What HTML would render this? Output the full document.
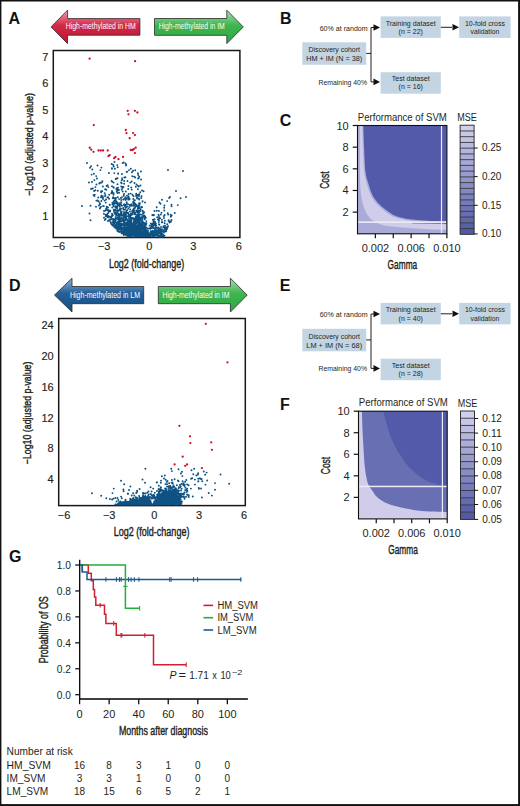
<!DOCTYPE html>
<html><head><meta charset="utf-8"><style>html,body{margin:0;padding:0;background:#fff;overflow:hidden;}svg{display:block;}</style></head>
<body><svg width="520" height="806" viewBox="0 0 520 806" font-family="Liberation Sans, sans-serif"><rect x="0" y="0" width="520" height="806" fill="#fff"/><text x="8.5" y="23.6" font-size="16" font-weight="bold" fill="#111" >A</text><text x="280.0" y="23.8" font-size="16" font-weight="bold" fill="#111" >B</text><text x="279.7" y="125.69999999999999" font-size="16" font-weight="bold" fill="#111" >C</text><text x="9.1" y="290.6" font-size="16" font-weight="bold" fill="#111" >D</text><text x="279.7" y="290.70000000000005" font-size="16" font-weight="bold" fill="#111" >E</text><text x="280.0" y="409.8" font-size="16" font-weight="bold" fill="#111" >F</text><text x="8.899999999999999" y="561.8000000000001" font-size="16" font-weight="bold" fill="#111" >G</text><defs><linearGradient id="gr1" x1="0" y1="0" x2="0" y2="1"><stop offset="0" stop-color="#f0a0b0"/><stop offset="0.45" stop-color="#d22a48"/><stop offset="1" stop-color="#c0102c"/></linearGradient></defs><polygon points="51.1,26.9 67.6,10.1 67.6,18.6 139.9,18.6 139.9,35.2 67.6,35.2 67.6,43.7" fill="url(#gr1)" stroke="#2a2a2a" stroke-width="0.8"/><text x="65.8" y="29.3" font-size="8.2" textLength="70" lengthAdjust="spacingAndGlyphs" fill="#fff" >High-methylated in HM</text><defs><linearGradient id="gg1" x1="0" y1="0" x2="0" y2="1"><stop offset="0" stop-color="#a8e0ae"/><stop offset="0.45" stop-color="#3fb54f"/><stop offset="1" stop-color="#2ea844"/></linearGradient></defs><polygon points="243.3,26.9 226.8,10.2 226.8,18.5 154.5,18.5 154.5,35.3 226.8,35.3 226.8,43.6" fill="url(#gg1)" stroke="#2a2a2a" stroke-width="0.8"/><text x="158.7" y="29.3" font-size="8.2" textLength="66" lengthAdjust="spacingAndGlyphs" fill="#fff" >High-methylated in IM</text><defs><linearGradient id="gb2" x1="0" y1="0" x2="0" y2="1"><stop offset="0" stop-color="#8fb3d6"/><stop offset="0.45" stop-color="#245f98"/><stop offset="1" stop-color="#154f86"/></linearGradient></defs><polygon points="54.5,295.1 72.0,278.2 72.0,286.5 143.7,286.5 143.7,303.7 72.0,303.7 72.0,312.0" fill="url(#gb2)" stroke="#2a2a2a" stroke-width="0.8"/><text x="70" y="297.8" font-size="8.2" textLength="70" lengthAdjust="spacingAndGlyphs" fill="#fff" >High-methylated in LM</text><defs><linearGradient id="gg2" x1="0" y1="0" x2="0" y2="1"><stop offset="0" stop-color="#a8e0ae"/><stop offset="0.45" stop-color="#3fb54f"/><stop offset="1" stop-color="#2ea844"/></linearGradient></defs><polygon points="247.2,295.1 230.4,278.2 230.4,286.5 158.3,286.5 158.3,303.7 230.4,303.7 230.4,312.0" fill="url(#gg2)" stroke="#2a2a2a" stroke-width="0.8"/><text x="162.5" y="297.8" font-size="8.2" textLength="67" lengthAdjust="spacingAndGlyphs" fill="#fff" >High-methylated in IM</text><rect x="53.3" y="50.5" width="186.60" height="187.00" fill="none" stroke="#1a1718" stroke-width="1.5"/><text x="48.3" y="219.53" font-size="11" text-anchor="end" fill="#231f20"  stroke="#231f20" stroke-width="0.15">1</text><text x="48.3" y="193.06" font-size="11" text-anchor="end" fill="#231f20"  stroke="#231f20" stroke-width="0.15">2</text><text x="48.3" y="166.59" font-size="11" text-anchor="end" fill="#231f20"  stroke="#231f20" stroke-width="0.15">3</text><text x="48.3" y="140.12" font-size="11" text-anchor="end" fill="#231f20"  stroke="#231f20" stroke-width="0.15">4</text><text x="48.3" y="113.65" font-size="11" text-anchor="end" fill="#231f20"  stroke="#231f20" stroke-width="0.15">5</text><text x="48.3" y="87.18" font-size="11" text-anchor="end" fill="#231f20"  stroke="#231f20" stroke-width="0.15">6</text><text x="48.3" y="60.710000000000015" font-size="11" text-anchor="end" fill="#231f20"  stroke="#231f20" stroke-width="0.15">7</text><text x="58.9" y="250.2" font-size="11" text-anchor="middle" fill="#231f20"  stroke="#231f20" stroke-width="0.15">−6</text><text x="104.2" y="250.2" font-size="11" text-anchor="middle" fill="#231f20"  stroke="#231f20" stroke-width="0.15">−3</text><text x="149.3" y="250.2" font-size="11" text-anchor="middle" fill="#231f20"  stroke="#231f20" stroke-width="0.15">0</text><text x="193.4" y="250.2" font-size="11" text-anchor="middle" fill="#231f20"  stroke="#231f20" stroke-width="0.15">3</text><text x="238.8" y="250.2" font-size="11" text-anchor="middle" fill="#231f20"  stroke="#231f20" stroke-width="0.15">6</text><text x="108.9" y="267.6" font-size="12" textLength="75.3" lengthAdjust="spacingAndGlyphs" fill="#231f20"  stroke="#231f20" stroke-width="0.4">Log2 (fold-change)</text><g transform="translate(33.2,144.5) rotate(-90)"><text x="0" y="0" font-size="11.5" text-anchor="middle" textLength="102.7" lengthAdjust="spacingAndGlyphs" fill="#231f20"  stroke="#231f20" stroke-width="0.4">−Log10 (adjusted p-value)</text></g><rect x="58.7" y="318.5" width="186.60" height="187.10" fill="none" stroke="#1a1718" stroke-width="1.5"/><text x="53.7" y="483.2" font-size="11" text-anchor="end" fill="#231f20"  stroke="#231f20" stroke-width="0.15">4</text><text x="53.7" y="452.4" font-size="11" text-anchor="end" fill="#231f20"  stroke="#231f20" stroke-width="0.15">8</text><text x="53.7" y="421.6" font-size="11" text-anchor="end" fill="#231f20"  stroke="#231f20" stroke-width="0.15">12</text><text x="53.7" y="390.8" font-size="11" text-anchor="end" fill="#231f20"  stroke="#231f20" stroke-width="0.15">16</text><text x="53.7" y="360.0" font-size="11" text-anchor="end" fill="#231f20"  stroke="#231f20" stroke-width="0.15">20</text><text x="53.7" y="329.2" font-size="11" text-anchor="end" fill="#231f20"  stroke="#231f20" stroke-width="0.15">24</text><text x="64" y="518.5" font-size="11" text-anchor="middle" fill="#231f20"  stroke="#231f20" stroke-width="0.15">−6</text><text x="109.2" y="518.5" font-size="11" text-anchor="middle" fill="#231f20"  stroke="#231f20" stroke-width="0.15">−3</text><text x="154.2" y="518.5" font-size="11" text-anchor="middle" fill="#231f20"  stroke="#231f20" stroke-width="0.15">0</text><text x="199" y="518.5" font-size="11" text-anchor="middle" fill="#231f20"  stroke="#231f20" stroke-width="0.15">3</text><text x="244" y="518.5" font-size="11" text-anchor="middle" fill="#231f20"  stroke="#231f20" stroke-width="0.15">6</text><text x="113.8" y="535.6" font-size="12" textLength="75.6" lengthAdjust="spacingAndGlyphs" fill="#231f20"  stroke="#231f20" stroke-width="0.4">Log2 (fold-change)</text><g transform="translate(31.2,412.9) rotate(-90)"><text x="0" y="0" font-size="11.5" text-anchor="middle" textLength="102.7" lengthAdjust="spacingAndGlyphs" fill="#231f20"  stroke="#231f20" stroke-width="0.4">−Log10 (adjusted p-value)</text></g><rect x="302.3" y="42.3" width="63.89999999999998" height="22.5" fill="#c3d5e3"/><rect x="380.6" y="16.4" width="60.19999999999999" height="21.5" fill="#c3d5e3"/><rect x="459.2" y="16.4" width="51.400000000000034" height="21.5" fill="#c3d5e3"/><rect x="380.6" y="72.2" width="60.19999999999999" height="21.5" fill="#c3d5e3"/><path d="M366.2 53.4 H371 M371 27.5 V81.9 M371 27.5 H374 M371 81.9 H374 M440.8 27.3 H452" stroke="#231f20" stroke-width="1" fill="none"/><polygon points="380,27.5 373.5,24.2 373.5,30.8" fill="#111"/><polygon points="380,81.9 373.5,78.60000000000001 373.5,85.2" fill="#111"/><polygon points="459,27.3 452.5,24.0 452.5,30.6" fill="#111"/><text x="334.2" y="52.2" font-size="8" text-anchor="middle" textLength="51.5" lengthAdjust="spacingAndGlyphs" fill="#231f20" >Discovery cohort</text><text x="334.2" y="61.3" font-size="8" text-anchor="middle" textLength="55.8" lengthAdjust="spacingAndGlyphs" fill="#231f20" >HM + IM (N = 38)</text><text x="410.7" y="25.8" font-size="8" text-anchor="middle" textLength="50" lengthAdjust="spacingAndGlyphs" fill="#231f20" >Training dataset</text><text x="410.7" y="34.2" font-size="8" text-anchor="middle" textLength="24.3" lengthAdjust="spacingAndGlyphs" fill="#231f20" >(n = 22)</text><text x="484.9" y="25.8" font-size="8" text-anchor="middle" textLength="40" lengthAdjust="spacingAndGlyphs" fill="#231f20" >10-fold cross</text><text x="484.9" y="34.2" font-size="8" text-anchor="middle" textLength="28.7" lengthAdjust="spacingAndGlyphs" fill="#231f20" >validation</text><text x="410.7" y="81.0" font-size="8" text-anchor="middle" textLength="38" lengthAdjust="spacingAndGlyphs" fill="#231f20" >Test dataset</text><text x="410.7" y="89.4" font-size="8" text-anchor="middle" textLength="24.3" lengthAdjust="spacingAndGlyphs" fill="#231f20" >(n = 16)</text><text x="367.7" y="30.8" font-size="8" text-anchor="end" textLength="48" lengthAdjust="spacingAndGlyphs" fill="#231f20" >60% at random</text><text x="367" y="84.7" font-size="8" text-anchor="end" textLength="48.5" lengthAdjust="spacingAndGlyphs" fill="#231f20" >Remaining 40%</text><rect x="302.3" y="328.8" width="63.89999999999998" height="22.5" fill="#c3d5e3"/><rect x="380.6" y="302.9" width="60.19999999999999" height="21.5" fill="#c3d5e3"/><rect x="459.2" y="302.9" width="51.400000000000034" height="21.5" fill="#c3d5e3"/><rect x="380.6" y="358.7" width="60.19999999999999" height="21.5" fill="#c3d5e3"/><path d="M366.2 339.9 H371 M371 314.0 V368.4 M371 314.0 H374 M371 368.4 H374 M440.8 313.8 H452" stroke="#231f20" stroke-width="1" fill="none"/><polygon points="380,314.0 373.5,310.7 373.5,317.3" fill="#111"/><polygon points="380,368.4 373.5,365.1 373.5,371.7" fill="#111"/><polygon points="459,313.8 452.5,310.5 452.5,317.1" fill="#111"/><text x="334.2" y="338.7" font-size="8" text-anchor="middle" textLength="51.5" lengthAdjust="spacingAndGlyphs" fill="#231f20" >Discovery cohort</text><text x="334.2" y="347.8" font-size="8" text-anchor="middle" textLength="55.8" lengthAdjust="spacingAndGlyphs" fill="#231f20" >LM + IM (N = 68)</text><text x="410.7" y="312.3" font-size="8" text-anchor="middle" textLength="50" lengthAdjust="spacingAndGlyphs" fill="#231f20" >Training dataset</text><text x="410.7" y="320.7" font-size="8" text-anchor="middle" textLength="24.3" lengthAdjust="spacingAndGlyphs" fill="#231f20" >(n = 40)</text><text x="484.9" y="312.3" font-size="8" text-anchor="middle" textLength="40" lengthAdjust="spacingAndGlyphs" fill="#231f20" >10-fold cross</text><text x="484.9" y="320.7" font-size="8" text-anchor="middle" textLength="28.7" lengthAdjust="spacingAndGlyphs" fill="#231f20" >validation</text><text x="410.7" y="367.5" font-size="8" text-anchor="middle" textLength="38" lengthAdjust="spacingAndGlyphs" fill="#231f20" >Test dataset</text><text x="410.7" y="375.9" font-size="8" text-anchor="middle" textLength="24.3" lengthAdjust="spacingAndGlyphs" fill="#231f20" >(n = 28)</text><text x="367.7" y="317.3" font-size="8" text-anchor="end" textLength="48" lengthAdjust="spacingAndGlyphs" fill="#231f20" >60% at random</text><text x="367" y="371.2" font-size="8" text-anchor="end" textLength="48.5" lengthAdjust="spacingAndGlyphs" fill="#231f20" >Remaining 40%</text><rect x="357.5" y="125.5" width="89.39999999999998" height="108.30000000000001" fill="#525aa9"/><path d="M357.5,125.5 L363.30,125.50 L363.37,127.41 L363.45,129.96 L363.55,133.00 L363.67,136.38 L363.79,139.92 L363.93,143.48 L364.06,146.89 L364.20,150.00 L364.33,152.93 L364.45,155.89 L364.57,158.83 L364.70,161.72 L364.85,164.52 L365.02,167.19 L365.24,169.70 L365.50,172.00 L365.82,174.08 L366.18,175.97 L366.59,177.69 L367.02,179.29 L367.47,180.78 L367.92,182.21 L368.37,183.61 L368.80,185.00 L369.21,186.36 L369.61,187.65 L370.00,188.87 L370.39,190.04 L370.80,191.17 L371.24,192.26 L371.70,193.34 L372.20,194.40 L372.73,195.44 L373.27,196.43 L373.83,197.40 L374.41,198.33 L375.03,199.25 L375.70,200.16 L376.42,201.08 L377.20,202.00 L378.04,202.93 L378.94,203.86 L379.88,204.79 L380.87,205.72 L381.90,206.63 L382.97,207.54 L384.07,208.43 L385.20,209.30 L386.35,210.17 L387.51,211.05 L388.71,211.93 L389.94,212.79 L391.23,213.62 L392.58,214.40 L394.00,215.14 L395.50,215.80 L397.07,216.39 L398.70,216.93 L400.39,217.42 L402.14,217.86 L403.98,218.26 L405.89,218.63 L407.90,218.97 L410.00,219.30 L412.26,219.60 L414.69,219.86 L417.23,220.08 L419.85,220.28 L422.49,220.46 L425.09,220.61 L427.61,220.76 L430.00,220.90 L432.38,221.03 L434.84,221.13 L437.31,221.22 L439.70,221.30 L441.94,221.36 L443.94,221.42 L445.62,221.46 L446.90,221.50 L446.9,233.8 L357.5,233.8 Z" fill="#abacd9"/><path d="M357.5,125.5 L362.30,125.50 L362.35,127.41 L362.41,129.96 L362.49,133.00 L362.58,136.38 L362.67,139.92 L362.77,143.48 L362.88,146.89 L363.00,150.00 L363.11,152.93 L363.22,155.89 L363.33,158.83 L363.46,161.72 L363.60,164.52 L363.76,167.19 L363.96,169.70 L364.20,172.00 L364.49,174.08 L364.82,175.97 L365.18,177.69 L365.57,179.29 L365.98,180.78 L366.39,182.21 L366.80,183.61 L367.20,185.00 L367.58,186.36 L367.95,187.65 L368.32,188.87 L368.70,190.04 L369.09,191.17 L369.50,192.26 L369.93,193.34 L370.40,194.40 L370.89,195.44 L371.38,196.43 L371.89,197.40 L372.42,198.33 L372.99,199.25 L373.61,200.16 L374.27,201.08 L375.00,202.00 L375.79,202.93 L376.63,203.85 L377.52,204.77 L378.46,205.68 L379.44,206.59 L380.45,207.50 L381.51,208.40 L382.60,209.30 L383.71,210.22 L384.83,211.16 L385.98,212.12 L387.17,213.06 L388.42,213.98 L389.75,214.85 L391.17,215.67 L392.70,216.40 L394.35,217.05 L396.12,217.64 L397.98,218.17 L399.92,218.66 L401.91,219.10 L403.93,219.52 L405.97,219.92 L408.00,220.30 L410.01,220.66 L412.02,220.98 L414.04,221.27 L416.09,221.54 L418.19,221.79 L420.37,222.03 L422.63,222.26 L425.00,222.50 L427.65,222.75 L430.64,223.00 L433.82,223.25 L437.01,223.49 L440.08,223.71 L442.85,223.91 L445.18,224.07 L446.90,224.20 L446.9,233.8 L357.5,233.8 Z" fill="#cfcde9"/><path d="M357.5,125.5 L359.70,125.50 L359.71,129.25 L359.71,134.42 L359.72,140.59 L359.73,147.35 L359.75,154.28 L359.78,160.98 L359.83,167.02 L359.90,172.00 L359.98,176.00 L360.05,179.47 L360.14,182.49 L360.24,185.17 L360.36,187.61 L360.53,189.89 L360.74,192.12 L361.00,194.40 L361.33,196.67 L361.71,198.83 L362.14,200.86 L362.60,202.78 L363.09,204.58 L363.59,206.27 L364.10,207.84 L364.60,209.30 L365.10,210.62 L365.62,211.78 L366.16,212.81 L366.70,213.74 L367.25,214.58 L367.80,215.35 L368.35,216.09 L368.90,216.80 L369.43,217.46 L369.94,218.04 L370.44,218.54 L370.95,219.00 L371.48,219.43 L372.04,219.84 L372.64,220.26 L373.30,220.70 L374.01,221.17 L374.76,221.64 L375.55,222.10 L376.37,222.56 L377.23,223.01 L378.12,223.43 L379.04,223.83 L380.00,224.20 L380.91,224.53 L381.74,224.83 L382.55,225.10 L383.42,225.35 L384.43,225.59 L385.62,225.82 L387.09,226.06 L388.90,226.30 L391.14,226.55 L393.80,226.81 L396.75,227.06 L399.88,227.31 L403.09,227.55 L406.25,227.79 L409.26,228.00 L412.00,228.20 L414.50,228.38 L416.88,228.54 L419.17,228.69 L421.39,228.83 L423.55,228.96 L425.70,229.08 L427.84,229.19 L430.00,229.30 L432.28,229.40 L434.70,229.50 L437.16,229.59 L439.57,229.67 L441.85,229.74 L443.89,229.80 L445.60,229.86 L446.90,229.90 L446.9,233.8 L357.5,233.8 Z" fill="#aaabd7"/><path d="M412,222.9 L446.9,222.9 L446.9,223.9 L412,223.4 Z" fill="#525aa9" opacity="0.75"/><rect x="357.5" y="221.3" width="89.39999999999998" height="1.6" fill="#ebebf7"/><rect x="440.9" y="125.5" width="1.2" height="108.30000000000001" fill="#ebebf7"/><line x1="352.7" y1="212.14" x2="357.5" y2="212.14" stroke="#111" stroke-width="1.2"/><text x="348.7" y="216.14000000000001" font-size="11" text-anchor="end" fill="#231f20" >2</text><line x1="352.7" y1="190.48" x2="357.5" y2="190.48" stroke="#111" stroke-width="1.2"/><text x="348.7" y="194.48000000000002" font-size="11" text-anchor="end" fill="#231f20" >4</text><line x1="352.7" y1="168.82" x2="357.5" y2="168.82" stroke="#111" stroke-width="1.2"/><text x="348.7" y="172.82" font-size="11" text-anchor="end" fill="#231f20" >6</text><line x1="352.7" y1="147.16" x2="357.5" y2="147.16" stroke="#111" stroke-width="1.2"/><text x="348.7" y="151.16" font-size="11" text-anchor="end" fill="#231f20" >8</text><line x1="352.7" y1="125.50" x2="357.5" y2="125.50" stroke="#111" stroke-width="1.2"/><text x="348.7" y="129.5" font-size="11" text-anchor="end" fill="#231f20" >10</text><line x1="375.38" y1="233.8" x2="375.38" y2="238.20000000000002" stroke="#111" stroke-width="1.2"/><text x="375.38" y="252.0" font-size="11" text-anchor="middle" textLength="27.5" lengthAdjust="spacingAndGlyphs" fill="#231f20" >0.002</text><line x1="393.26" y1="233.8" x2="393.26" y2="238.20000000000002" stroke="#111" stroke-width="1.2"/><line x1="411.14" y1="233.8" x2="411.14" y2="238.20000000000002" stroke="#111" stroke-width="1.2"/><text x="411.14" y="252.0" font-size="11" text-anchor="middle" textLength="27.5" lengthAdjust="spacingAndGlyphs" fill="#231f20" >0.006</text><line x1="429.02" y1="233.8" x2="429.02" y2="238.20000000000002" stroke="#111" stroke-width="1.2"/><line x1="446.90" y1="233.8" x2="446.90" y2="238.20000000000002" stroke="#111" stroke-width="1.2"/><text x="446.9" y="252.0" font-size="11" text-anchor="middle" textLength="27.5" lengthAdjust="spacingAndGlyphs" fill="#231f20" >0.010</text><rect x="357.5" y="125.5" width="89.39999999999998" height="108.30000000000001" fill="none" stroke="#111" stroke-width="1.1"/><text x="357.8" y="120.5" font-size="10" textLength="89" lengthAdjust="spacingAndGlyphs" fill="#231f20" >Performance of SVM</text><text x="402.4" y="269.0" font-size="13" text-anchor="middle" textLength="29.6" lengthAdjust="spacingAndGlyphs" fill="#231f20"  stroke="#231f20" stroke-width="0.4">Gamma</text><g transform="translate(324.7,180.15) rotate(-90)"><text x="0" y="4.5" font-size="13" text-anchor="middle" textLength="17.2" lengthAdjust="spacingAndGlyphs" fill="#231f20"  stroke="#231f20" stroke-width="0.4">Cost</text></g><rect x="460.1" y="228.56" width="14.0" height="5.74" fill="rgb(82,90,168)"/><rect x="460.1" y="222.82" width="14.0" height="5.74" fill="rgb(89,96,171)"/><rect x="460.1" y="217.07" width="14.0" height="5.74" fill="rgb(96,103,175)"/><rect x="460.1" y="211.33" width="14.0" height="5.74" fill="rgb(103,109,179)"/><rect x="460.1" y="205.59" width="14.0" height="5.74" fill="rgb(110,116,183)"/><rect x="460.1" y="199.85" width="14.0" height="5.74" fill="rgb(117,122,187)"/><rect x="460.1" y="194.11" width="14.0" height="5.74" fill="rgb(124,129,191)"/><rect x="460.1" y="188.36" width="14.0" height="5.74" fill="rgb(131,135,195)"/><rect x="460.1" y="182.62" width="14.0" height="5.74" fill="rgb(138,142,199)"/><rect x="460.1" y="176.88" width="14.0" height="5.74" fill="rgb(145,148,203)"/><rect x="460.1" y="171.14" width="14.0" height="5.74" fill="rgb(152,155,206)"/><rect x="460.1" y="165.39" width="14.0" height="5.74" fill="rgb(159,161,210)"/><rect x="460.1" y="159.65" width="14.0" height="5.74" fill="rgb(166,168,214)"/><rect x="460.1" y="153.91" width="14.0" height="5.74" fill="rgb(173,174,218)"/><rect x="460.1" y="148.17" width="14.0" height="5.74" fill="rgb(180,181,222)"/><rect x="460.1" y="142.43" width="14.0" height="5.74" fill="rgb(187,187,226)"/><rect x="460.1" y="136.68" width="14.0" height="5.74" fill="rgb(194,194,230)"/><rect x="460.1" y="130.94" width="14.0" height="5.74" fill="rgb(201,200,234)"/><rect x="460.1" y="125.20" width="14.0" height="5.74" fill="rgb(208,207,238)"/><line x1="460.1" y1="130.94" x2="474.1" y2="130.94" stroke="#333" stroke-width="0.9"/><line x1="460.1" y1="136.68" x2="474.1" y2="136.68" stroke="#333" stroke-width="0.9"/><line x1="460.1" y1="142.43" x2="474.1" y2="142.43" stroke="#333" stroke-width="0.9"/><line x1="460.1" y1="148.17" x2="474.1" y2="148.17" stroke="#333" stroke-width="0.9"/><line x1="460.1" y1="153.91" x2="474.1" y2="153.91" stroke="#333" stroke-width="0.9"/><line x1="460.1" y1="159.65" x2="474.1" y2="159.65" stroke="#333" stroke-width="0.9"/><line x1="460.1" y1="165.39" x2="474.1" y2="165.39" stroke="#333" stroke-width="0.9"/><line x1="460.1" y1="171.14" x2="474.1" y2="171.14" stroke="#333" stroke-width="0.9"/><line x1="460.1" y1="176.88" x2="474.1" y2="176.88" stroke="#333" stroke-width="0.9"/><line x1="460.1" y1="182.62" x2="474.1" y2="182.62" stroke="#333" stroke-width="0.9"/><line x1="460.1" y1="188.36" x2="474.1" y2="188.36" stroke="#333" stroke-width="0.9"/><line x1="460.1" y1="194.11" x2="474.1" y2="194.11" stroke="#333" stroke-width="0.9"/><line x1="460.1" y1="199.85" x2="474.1" y2="199.85" stroke="#333" stroke-width="0.9"/><line x1="460.1" y1="205.59" x2="474.1" y2="205.59" stroke="#333" stroke-width="0.9"/><line x1="460.1" y1="211.33" x2="474.1" y2="211.33" stroke="#333" stroke-width="0.9"/><line x1="460.1" y1="217.07" x2="474.1" y2="217.07" stroke="#333" stroke-width="0.9"/><line x1="460.1" y1="222.82" x2="474.1" y2="222.82" stroke="#333" stroke-width="0.9"/><line x1="460.1" y1="228.56" x2="474.1" y2="228.56" stroke="#333" stroke-width="0.9"/><rect x="460.1" y="125.2" width="14.0" height="109.10000000000001" fill="none" stroke="#222" stroke-width="0.9"/><text x="467.1" y="121.2" font-size="10" text-anchor="middle" textLength="19.5" lengthAdjust="spacingAndGlyphs" fill="#231f20" >MSE</text><line x1="474.1" y1="148.00" x2="477.70000000000005" y2="148.00" stroke="#111" stroke-width="1"/><text x="481.90000000000003" y="151.4" font-size="10.6" textLength="19.5" lengthAdjust="spacingAndGlyphs" fill="#231f20" >0.25</text><line x1="474.1" y1="176.60" x2="477.70000000000005" y2="176.60" stroke="#111" stroke-width="1"/><text x="481.90000000000003" y="180.0" font-size="10.6" textLength="19.5" lengthAdjust="spacingAndGlyphs" fill="#231f20" >0.20</text><line x1="474.1" y1="205.30" x2="477.70000000000005" y2="205.30" stroke="#111" stroke-width="1"/><text x="481.90000000000003" y="208.70000000000002" font-size="10.6" textLength="19.5" lengthAdjust="spacingAndGlyphs" fill="#231f20" >0.15</text><line x1="474.1" y1="233.90" x2="477.70000000000005" y2="233.90" stroke="#111" stroke-width="1"/><text x="481.90000000000003" y="237.3" font-size="10.6" textLength="19.5" lengthAdjust="spacingAndGlyphs" fill="#231f20" >0.10</text><rect x="358.5" y="411.2" width="88.69999999999999" height="107.69999999999999" fill="#525aa9"/><path d="M383.10,411.20 L383.40,412.27 L383.79,413.69 L384.26,415.38 L384.78,417.26 L385.34,419.24 L385.91,421.25 L386.47,423.20 L387.00,425.00 L387.52,426.73 L388.04,428.49 L388.57,430.26 L389.10,432.02 L389.64,433.74 L390.19,435.41 L390.74,437.01 L391.30,438.50 L391.86,439.88 L392.42,441.15 L392.98,442.35 L393.55,443.49 L394.13,444.60 L394.73,445.70 L395.35,446.83 L396.00,448.00 L396.68,449.21 L397.39,450.44 L398.12,451.68 L398.86,452.92 L399.62,454.16 L400.38,455.37 L401.14,456.55 L401.90,457.70 L402.64,458.81 L403.38,459.90 L404.12,460.97 L404.86,462.02 L405.61,463.04 L406.38,464.05 L407.17,465.03 L408.00,466.00 L408.88,466.95 L409.80,467.90 L410.76,468.83 L411.73,469.74 L412.70,470.62 L413.65,471.46 L414.55,472.25 L415.40,473.00 L416.18,473.69 L416.92,474.33 L417.62,474.92 L418.29,475.48 L418.96,476.01 L419.62,476.52 L420.30,477.01 L421.00,477.50 L421.71,477.97 L422.43,478.42 L423.14,478.85 L423.86,479.26 L424.59,479.65 L425.33,480.04 L426.10,480.42 L426.90,480.80 L427.73,481.18 L428.61,481.55 L429.51,481.92 L430.42,482.28 L431.34,482.63 L432.25,482.97 L433.14,483.29 L434.00,483.60 L434.83,483.89 L435.64,484.18 L436.43,484.44 L437.22,484.70 L438.00,484.94 L438.79,485.18 L439.59,485.39 L440.40,485.60 L441.28,485.80 L442.23,485.98 L443.22,486.16 L444.20,486.33 L445.13,486.47 L445.97,486.60 L446.67,486.71 L447.20,486.80 L447.20,518.90 L358.50,518.90 L358.50,411.20 Z" fill="#6870b3"/><path d="M358.50,411.20 L361.90,411.20 L361.94,412.66 L362.00,414.60 L362.06,416.91 L362.14,419.47 L362.22,422.18 L362.31,424.92 L362.40,427.56 L362.50,430.00 L362.61,432.30 L362.72,434.58 L362.84,436.85 L362.97,439.11 L363.10,441.36 L363.23,443.59 L363.37,445.80 L363.50,448.00 L363.63,450.21 L363.75,452.44 L363.88,454.67 L364.01,456.88 L364.14,459.04 L364.28,461.12 L364.43,463.12 L364.60,465.00 L364.78,466.77 L364.97,468.45 L365.17,470.04 L365.38,471.56 L365.60,473.01 L365.83,474.40 L366.06,475.73 L366.30,477.00 L366.54,478.21 L366.78,479.34 L367.03,480.41 L367.28,481.41 L367.55,482.37 L367.84,483.28 L368.15,484.15 L368.50,485.00 L368.88,485.80 L369.29,486.53 L369.73,487.21 L370.19,487.85 L370.67,488.47 L371.15,489.10 L371.63,489.73 L372.10,490.40 L372.57,491.10 L373.03,491.82 L373.50,492.56 L373.98,493.29 L374.46,494.01 L374.95,494.71 L375.47,495.38 L376.00,496.00 L376.54,496.58 L377.08,497.12 L377.63,497.63 L378.19,498.11 L378.78,498.58 L379.41,499.05 L380.08,499.52 L380.80,500.00 L381.57,500.49 L382.37,500.99 L383.20,501.48 L384.08,501.97 L384.99,502.45 L385.95,502.92 L386.95,503.37 L388.00,503.80 L389.05,504.20 L390.09,504.56 L391.14,504.91 L392.24,505.24 L393.45,505.58 L394.78,505.93 L396.29,506.30 L398.00,506.70 L399.98,507.16 L402.21,507.67 L404.63,508.22 L407.17,508.77 L409.77,509.31 L412.37,509.81 L414.90,510.24 L417.30,510.60 L419.63,510.87 L421.97,511.07 L424.30,511.21 L426.59,511.32 L428.84,511.40 L431.00,511.46 L433.06,511.52 L435.00,511.60 L436.87,511.68 L438.72,511.75 L440.51,511.81 L442.21,511.86 L443.76,511.91 L445.14,511.94 L446.30,511.97 L447.20,512.00 L447.20,518.90 L358.50,518.90 Z" fill="#cfcde9"/><rect x="358.5" y="485.7" width="88.69999999999999" height="1.5" fill="#ebebf7"/><rect x="441.8" y="411.2" width="1.2" height="107.69999999999999" fill="#ebebf7"/><line x1="353.7" y1="497.36" x2="358.5" y2="497.36" stroke="#111" stroke-width="1.2"/><text x="349.7" y="501.35999999999996" font-size="11" text-anchor="end" fill="#231f20" >2</text><line x1="353.7" y1="475.82" x2="358.5" y2="475.82" stroke="#111" stroke-width="1.2"/><text x="349.7" y="479.82" font-size="11" text-anchor="end" fill="#231f20" >4</text><line x1="353.7" y1="454.28" x2="358.5" y2="454.28" stroke="#111" stroke-width="1.2"/><text x="349.7" y="458.28" font-size="11" text-anchor="end" fill="#231f20" >6</text><line x1="353.7" y1="432.74" x2="358.5" y2="432.74" stroke="#111" stroke-width="1.2"/><text x="349.7" y="436.74" font-size="11" text-anchor="end" fill="#231f20" >8</text><line x1="353.7" y1="411.20" x2="358.5" y2="411.20" stroke="#111" stroke-width="1.2"/><text x="349.7" y="415.2" font-size="11" text-anchor="end" fill="#231f20" >10</text><line x1="376.24" y1="518.9" x2="376.24" y2="523.3" stroke="#111" stroke-width="1.2"/><text x="376.24" y="537.1" font-size="11" text-anchor="middle" textLength="27.5" lengthAdjust="spacingAndGlyphs" fill="#231f20" >0.002</text><line x1="393.98" y1="518.9" x2="393.98" y2="523.3" stroke="#111" stroke-width="1.2"/><line x1="411.72" y1="518.9" x2="411.72" y2="523.3" stroke="#111" stroke-width="1.2"/><text x="411.71999999999997" y="537.1" font-size="11" text-anchor="middle" textLength="27.5" lengthAdjust="spacingAndGlyphs" fill="#231f20" >0.006</text><line x1="429.46" y1="518.9" x2="429.46" y2="523.3" stroke="#111" stroke-width="1.2"/><line x1="447.20" y1="518.9" x2="447.20" y2="523.3" stroke="#111" stroke-width="1.2"/><text x="447.2" y="537.1" font-size="11" text-anchor="middle" textLength="27.5" lengthAdjust="spacingAndGlyphs" fill="#231f20" >0.010</text><rect x="358.5" y="411.2" width="88.69999999999999" height="107.69999999999999" fill="none" stroke="#111" stroke-width="1.1"/><text x="358.8" y="406.2" font-size="10" textLength="89" lengthAdjust="spacingAndGlyphs" fill="#231f20" >Performance of SVM</text><text x="403.05" y="554.1" font-size="13" text-anchor="middle" textLength="29.6" lengthAdjust="spacingAndGlyphs" fill="#231f20"  stroke="#231f20" stroke-width="0.4">Gamma</text><g transform="translate(325.7,465.54999999999995) rotate(-90)"><text x="0" y="4.5" font-size="13" text-anchor="middle" textLength="17.2" lengthAdjust="spacingAndGlyphs" fill="#231f20"  stroke="#231f20" stroke-width="0.4">Cost</text></g><rect x="460.5" y="512.17" width="14.0" height="7.23" fill="rgb(82,90,168)"/><rect x="460.5" y="504.95" width="14.0" height="7.23" fill="rgb(91,98,173)"/><rect x="460.5" y="497.72" width="14.0" height="7.23" fill="rgb(100,106,178)"/><rect x="460.5" y="490.49" width="14.0" height="7.23" fill="rgb(109,115,183)"/><rect x="460.5" y="483.27" width="14.0" height="7.23" fill="rgb(118,123,188)"/><rect x="460.5" y="476.04" width="14.0" height="7.23" fill="rgb(127,131,193)"/><rect x="460.5" y="468.81" width="14.0" height="7.23" fill="rgb(136,140,198)"/><rect x="460.5" y="461.59" width="14.0" height="7.23" fill="rgb(145,148,203)"/><rect x="460.5" y="454.36" width="14.0" height="7.23" fill="rgb(154,156,208)"/><rect x="460.5" y="447.13" width="14.0" height="7.23" fill="rgb(163,165,213)"/><rect x="460.5" y="439.91" width="14.0" height="7.23" fill="rgb(172,173,218)"/><rect x="460.5" y="432.68" width="14.0" height="7.23" fill="rgb(181,181,223)"/><rect x="460.5" y="425.45" width="14.0" height="7.23" fill="rgb(190,190,228)"/><rect x="460.5" y="418.23" width="14.0" height="7.23" fill="rgb(199,198,233)"/><rect x="460.5" y="411.00" width="14.0" height="7.23" fill="rgb(208,207,238)"/><line x1="460.5" y1="418.23" x2="474.5" y2="418.23" stroke="#333" stroke-width="0.9"/><line x1="460.5" y1="425.45" x2="474.5" y2="425.45" stroke="#333" stroke-width="0.9"/><line x1="460.5" y1="432.68" x2="474.5" y2="432.68" stroke="#333" stroke-width="0.9"/><line x1="460.5" y1="439.91" x2="474.5" y2="439.91" stroke="#333" stroke-width="0.9"/><line x1="460.5" y1="447.13" x2="474.5" y2="447.13" stroke="#333" stroke-width="0.9"/><line x1="460.5" y1="454.36" x2="474.5" y2="454.36" stroke="#333" stroke-width="0.9"/><line x1="460.5" y1="461.59" x2="474.5" y2="461.59" stroke="#333" stroke-width="0.9"/><line x1="460.5" y1="468.81" x2="474.5" y2="468.81" stroke="#333" stroke-width="0.9"/><line x1="460.5" y1="476.04" x2="474.5" y2="476.04" stroke="#333" stroke-width="0.9"/><line x1="460.5" y1="483.27" x2="474.5" y2="483.27" stroke="#333" stroke-width="0.9"/><line x1="460.5" y1="490.49" x2="474.5" y2="490.49" stroke="#333" stroke-width="0.9"/><line x1="460.5" y1="497.72" x2="474.5" y2="497.72" stroke="#333" stroke-width="0.9"/><line x1="460.5" y1="504.95" x2="474.5" y2="504.95" stroke="#333" stroke-width="0.9"/><line x1="460.5" y1="512.17" x2="474.5" y2="512.17" stroke="#333" stroke-width="0.9"/><rect x="460.5" y="411.0" width="14.0" height="108.39999999999998" fill="none" stroke="#222" stroke-width="0.9"/><text x="467.5" y="407.0" font-size="10" text-anchor="middle" textLength="19.5" lengthAdjust="spacingAndGlyphs" fill="#231f20" >MSE</text><line x1="474.5" y1="418.50" x2="478.1" y2="418.50" stroke="#111" stroke-width="1"/><text x="482.3" y="421.9" font-size="10.6" textLength="19.5" lengthAdjust="spacingAndGlyphs" fill="#231f20" >0.12</text><line x1="474.5" y1="433.10" x2="478.1" y2="433.10" stroke="#111" stroke-width="1"/><text x="482.3" y="436.5" font-size="10.6" textLength="19.5" lengthAdjust="spacingAndGlyphs" fill="#231f20" >0.11</text><line x1="474.5" y1="447.30" x2="478.1" y2="447.30" stroke="#111" stroke-width="1"/><text x="482.3" y="450.7" font-size="10.6" textLength="19.5" lengthAdjust="spacingAndGlyphs" fill="#231f20" >0.10</text><line x1="474.5" y1="461.80" x2="478.1" y2="461.80" stroke="#111" stroke-width="1"/><text x="482.3" y="465.2" font-size="10.6" textLength="19.5" lengthAdjust="spacingAndGlyphs" fill="#231f20" >0.09</text><line x1="474.5" y1="475.80" x2="478.1" y2="475.80" stroke="#111" stroke-width="1"/><text x="482.3" y="479.2" font-size="10.6" textLength="19.5" lengthAdjust="spacingAndGlyphs" fill="#231f20" >0.08</text><line x1="474.5" y1="490.30" x2="478.1" y2="490.30" stroke="#111" stroke-width="1"/><text x="482.3" y="493.7" font-size="10.6" textLength="19.5" lengthAdjust="spacingAndGlyphs" fill="#231f20" >0.07</text><line x1="474.5" y1="504.50" x2="478.1" y2="504.50" stroke="#111" stroke-width="1"/><text x="482.3" y="507.9" font-size="10.6" textLength="19.5" lengthAdjust="spacingAndGlyphs" fill="#231f20" >0.06</text><line x1="474.5" y1="519.40" x2="478.1" y2="519.40" stroke="#111" stroke-width="1"/><text x="482.3" y="522.8" font-size="10.6" textLength="19.5" lengthAdjust="spacingAndGlyphs" fill="#231f20" >0.05</text><line x1="79.7" y1="559.8" x2="79.7" y2="699.6" stroke="#000" stroke-width="1.3"/><line x1="79.1" y1="699" x2="247.9" y2="699" stroke="#000" stroke-width="1.3"/><line x1="75.3" y1="694.70" x2="79.8" y2="694.70" stroke="#111" stroke-width="1.3"/><text x="71.0" y="698.7" font-size="11" text-anchor="end" textLength="14.2" lengthAdjust="spacingAndGlyphs" fill="#231f20" >0.0</text><line x1="75.3" y1="668.76" x2="79.8" y2="668.76" stroke="#111" stroke-width="1.3"/><text x="71.0" y="672.76" font-size="11" text-anchor="end" textLength="14.2" lengthAdjust="spacingAndGlyphs" fill="#231f20" >0.2</text><line x1="75.3" y1="642.82" x2="79.8" y2="642.82" stroke="#111" stroke-width="1.3"/><text x="71.0" y="646.82" font-size="11" text-anchor="end" textLength="14.2" lengthAdjust="spacingAndGlyphs" fill="#231f20" >0.4</text><line x1="75.3" y1="616.88" x2="79.8" y2="616.88" stroke="#111" stroke-width="1.3"/><text x="71.0" y="620.8800000000001" font-size="11" text-anchor="end" textLength="14.2" lengthAdjust="spacingAndGlyphs" fill="#231f20" >0.6</text><line x1="75.3" y1="590.94" x2="79.8" y2="590.94" stroke="#111" stroke-width="1.3"/><text x="71.0" y="594.94" font-size="11" text-anchor="end" textLength="14.2" lengthAdjust="spacingAndGlyphs" fill="#231f20" >0.8</text><line x1="75.3" y1="565.00" x2="79.8" y2="565.00" stroke="#111" stroke-width="1.3"/><text x="71.0" y="569.0" font-size="11" text-anchor="end" textLength="14.2" lengthAdjust="spacingAndGlyphs" fill="#231f20" >1.0</text><line x1="79.60" y1="699" x2="79.60" y2="704.2" stroke="#111" stroke-width="1.3"/><text x="79.6" y="717.5" font-size="11" text-anchor="middle" fill="#231f20" >0</text><line x1="109.15" y1="699" x2="109.15" y2="704.2" stroke="#111" stroke-width="1.3"/><text x="109.14999999999999" y="717.5" font-size="11" text-anchor="middle" fill="#231f20" >20</text><line x1="138.70" y1="699" x2="138.70" y2="704.2" stroke="#111" stroke-width="1.3"/><text x="138.7" y="717.5" font-size="11" text-anchor="middle" fill="#231f20" >40</text><line x1="168.25" y1="699" x2="168.25" y2="704.2" stroke="#111" stroke-width="1.3"/><text x="168.25" y="717.5" font-size="11" text-anchor="middle" fill="#231f20" >60</text><line x1="197.80" y1="699" x2="197.80" y2="704.2" stroke="#111" stroke-width="1.3"/><text x="197.8" y="717.5" font-size="11" text-anchor="middle" fill="#231f20" >80</text><line x1="227.35" y1="699" x2="227.35" y2="704.2" stroke="#111" stroke-width="1.3"/><text x="227.35" y="717.5" font-size="11" text-anchor="middle" fill="#231f20" >100</text><text x="118.9" y="734.6" font-size="12.5" textLength="89" lengthAdjust="spacingAndGlyphs" fill="#231f20"  stroke="#231f20" stroke-width="0.4">Months after diagnosis</text><g transform="translate(47.6,629.7) rotate(-90)"><text x="0" y="0" font-size="12.5" text-anchor="middle" textLength="67" lengthAdjust="spacingAndGlyphs" fill="#231f20"  stroke="#231f20" stroke-width="0.4">Probability of OS</text></g><path d="M80.00,565.00 L88.30,565.00 L88.30,573.30 L91.30,573.30 L91.30,580.80 L93.30,580.80 L93.30,589.40 L94.50,589.40 L94.50,597.00 L95.80,597.00 L95.80,605.20 L104.50,605.20 L104.50,614.20 L105.90,614.20 L105.90,623.40 L116.30,623.40 L116.30,635.30 L153.50,635.30 L153.50,664.80 L186.20,664.80" fill="none" stroke="#cf1f33" stroke-width="1.5"/><line x1="100.20" y1="602.90" x2="100.20" y2="607.50" stroke="#cf1f33" stroke-width="1.1"/><line x1="113.70" y1="621.10" x2="113.70" y2="625.70" stroke="#cf1f33" stroke-width="1.1"/><line x1="121.00" y1="633.00" x2="121.00" y2="637.60" stroke="#cf1f33" stroke-width="1.1"/><line x1="121.80" y1="633.00" x2="121.80" y2="637.60" stroke="#cf1f33" stroke-width="1.1"/><line x1="144.80" y1="633.00" x2="144.80" y2="637.60" stroke="#cf1f33" stroke-width="1.1"/><line x1="186.20" y1="662.50" x2="186.20" y2="667.10" stroke="#cf1f33" stroke-width="1.1"/><path d="M80.00,565.00 L82.30,565.00 L82.30,572.10 L87.00,572.10 L87.00,579.50 L241.50,579.50" fill="none" stroke="#1a5a96" stroke-width="1.5"/><line x1="105.90" y1="577.20" x2="105.90" y2="581.80" stroke="#1a5a96" stroke-width="1.1"/><line x1="116.40" y1="577.20" x2="116.40" y2="581.80" stroke="#1a5a96" stroke-width="1.1"/><line x1="119.50" y1="577.20" x2="119.50" y2="581.80" stroke="#1a5a96" stroke-width="1.1"/><line x1="121.20" y1="577.20" x2="121.20" y2="581.80" stroke="#1a5a96" stroke-width="1.1"/><line x1="128.50" y1="577.20" x2="128.50" y2="581.80" stroke="#1a5a96" stroke-width="1.1"/><line x1="131.10" y1="577.20" x2="131.10" y2="581.80" stroke="#1a5a96" stroke-width="1.1"/><line x1="134.40" y1="577.20" x2="134.40" y2="581.80" stroke="#1a5a96" stroke-width="1.1"/><line x1="138.90" y1="577.20" x2="138.90" y2="581.80" stroke="#1a5a96" stroke-width="1.1"/><line x1="169.70" y1="577.20" x2="169.70" y2="581.80" stroke="#1a5a96" stroke-width="1.1"/><line x1="171.10" y1="577.20" x2="171.10" y2="581.80" stroke="#1a5a96" stroke-width="1.1"/><line x1="193.50" y1="577.20" x2="193.50" y2="581.80" stroke="#1a5a96" stroke-width="1.1"/><line x1="197.60" y1="577.20" x2="197.60" y2="581.80" stroke="#1a5a96" stroke-width="1.1"/><line x1="240.80" y1="577.20" x2="240.80" y2="581.80" stroke="#1a5a96" stroke-width="1.1"/><path d="M80.00,565.00 L125.40,565.00 L125.40,608.20 L139.60,608.20" fill="none" stroke="#22b03a" stroke-width="1.5"/><line x1="123.2" y1="586.4" x2="127.6" y2="586.4" stroke="#22b03a" stroke-width="1.1"/><line x1="139.60" y1="605.90" x2="139.60" y2="610.50" stroke="#22b03a" stroke-width="1.1"/><path d="M80,565 H82.3 V572.1" fill="none" stroke="#1a5a96" stroke-width="1.5"/><line x1="203.5" y1="605.4" x2="213.1" y2="605.4" stroke="#cf1f33" stroke-width="1.6"/><text x="217.4" y="609.0" font-size="10" textLength="40.6" lengthAdjust="spacingAndGlyphs" fill="#231f20" >HM_SVM</text><line x1="203.5" y1="617.7" x2="213.1" y2="617.7" stroke="#22b03a" stroke-width="1.6"/><text x="217.4" y="621.3000000000001" font-size="10" textLength="36" lengthAdjust="spacingAndGlyphs" fill="#231f20" >IM_SVM</text><line x1="203.5" y1="630" x2="213.1" y2="630" stroke="#1a5a96" stroke-width="1.6"/><text x="217.4" y="633.6" font-size="10" textLength="39.2" lengthAdjust="spacingAndGlyphs" fill="#231f20" >LM_SVM</text><text x="169.4" y="678.6" font-size="10.5" font-style="italic" fill="#231f20" >P</text><text x="178.8" y="678.6" font-size="10.5" textLength="7" lengthAdjust="spacingAndGlyphs" fill="#231f20"  stroke="#231f20" stroke-width="0.3">=</text><text x="189.2" y="678.6" font-size="10.5" textLength="19.6" lengthAdjust="spacingAndGlyphs" fill="#231f20" >1.71</text><text x="212.3" y="678.6" font-size="10" textLength="4.6" lengthAdjust="spacingAndGlyphs" fill="#231f20" >x</text><text x="220.4" y="678.6" font-size="10.5" textLength="10.4" lengthAdjust="spacingAndGlyphs" fill="#231f20" >10</text><text x="231.9" y="675.2" font-size="7.5" textLength="10.4" lengthAdjust="spacingAndGlyphs" fill="#231f20" >−2</text><text x="6.6" y="755" font-size="10.3" textLength="66.2" lengthAdjust="spacingAndGlyphs" fill="#231f20" >Number at risk</text><text x="6.6" y="768.8" font-size="10.3" textLength="44.2" lengthAdjust="spacingAndGlyphs" fill="#231f20" >HM_SVM</text><text x="79.6" y="768.8" font-size="10" text-anchor="middle" fill="#231f20" >16</text><text x="109.14999999999999" y="768.8" font-size="10" text-anchor="middle" fill="#231f20" >8</text><text x="138.7" y="768.8" font-size="10" text-anchor="middle" fill="#231f20" >3</text><text x="168.25" y="768.8" font-size="10" text-anchor="middle" fill="#231f20" >1</text><text x="197.8" y="768.8" font-size="10" text-anchor="middle" fill="#231f20" >0</text><text x="227.35" y="768.8" font-size="10" text-anchor="middle" fill="#231f20" >0</text><text x="6.6" y="781.9" font-size="10.3" textLength="38.7" lengthAdjust="spacingAndGlyphs" fill="#231f20" >IM_SVM</text><text x="79.6" y="781.9" font-size="10" text-anchor="middle" fill="#231f20" >3</text><text x="109.14999999999999" y="781.9" font-size="10" text-anchor="middle" fill="#231f20" >3</text><text x="138.7" y="781.9" font-size="10" text-anchor="middle" fill="#231f20" >1</text><text x="168.25" y="781.9" font-size="10" text-anchor="middle" fill="#231f20" >0</text><text x="197.8" y="781.9" font-size="10" text-anchor="middle" fill="#231f20" >0</text><text x="227.35" y="781.9" font-size="10" text-anchor="middle" fill="#231f20" >0</text><text x="6.6" y="795.0" font-size="10.3" textLength="41.7" lengthAdjust="spacingAndGlyphs" fill="#231f20" >LM_SVM</text><text x="79.6" y="795.0" font-size="10" text-anchor="middle" fill="#231f20" >18</text><text x="109.14999999999999" y="795.0" font-size="10" text-anchor="middle" fill="#231f20" >15</text><text x="138.7" y="795.0" font-size="10" text-anchor="middle" fill="#231f20" >6</text><text x="168.25" y="795.0" font-size="10" text-anchor="middle" fill="#231f20" >5</text><text x="197.8" y="795.0" font-size="10" text-anchor="middle" fill="#231f20" >2</text><text x="227.35" y="795.0" font-size="10" text-anchor="middle" fill="#231f20" >1</text><path d="M125.8 223.9h0M112.8 222.2h0M144.1 212.1h0M128.0 235.6h0M127.5 223.1h0M103.1 199.0h0M134.6 225.8h0M141.5 234.0h0M123.7 209.7h0M125.6 163.4h0M139.6 230.7h0M100.4 170.1h0M124.3 231.7h0M118.4 225.0h0M135.2 231.0h0M130.7 236.4h0M141.7 233.7h0M139.4 236.1h0M126.8 219.1h0M133.1 227.2h0M118.0 226.5h0M130.3 209.4h0M142.1 207.3h0M145.8 217.8h0M120.9 214.7h0M117.1 202.7h0M102.3 197.6h0M137.0 230.3h0M118.2 224.1h0M144.2 224.2h0M134.7 224.0h0M118.4 223.8h0M120.9 221.2h0M122.3 179.7h0M130.0 223.0h0M120.7 231.8h0M116.4 206.5h0M123.8 221.6h0M137.9 234.2h0M113.1 198.0h0M117.8 197.2h0M126.1 164.6h0M132.2 235.5h0M133.1 202.2h0M144.1 236.4h0M128.8 234.4h0M119.8 225.0h0M105.1 196.2h0M129.6 228.5h0M143.4 231.2h0M115.7 212.6h0M146.0 232.4h0M119.0 232.0h0M132.1 228.4h0M138.8 198.4h0M146.3 221.1h0M120.6 224.9h0M133.0 202.1h0M124.9 234.5h0M136.2 232.4h0M121.0 215.8h0M135.0 235.1h0M110.8 222.3h0M122.9 233.0h0M134.9 218.5h0M147.5 228.8h0M145.5 235.4h0M139.1 221.7h0M125.9 224.0h0M131.4 218.2h0M145.0 231.2h0M126.5 213.0h0M138.0 185.8h0M144.6 235.4h0M126.3 231.0h0M138.4 232.1h0M106.5 208.3h0M126.3 228.4h0M145.3 230.2h0M124.1 219.5h0M133.7 225.9h0M111.7 219.2h0M91.1 166.2h0M126.4 235.4h0M140.2 214.4h0M137.9 227.7h0M128.1 199.6h0M121.3 213.9h0M139.4 226.7h0M127.8 228.3h0M144.8 236.1h0M138.2 229.2h0M133.8 230.2h0M135.4 214.2h0M141.1 233.6h0M125.3 233.5h0M116.6 223.8h0M143.1 234.6h0M140.9 226.2h0M134.1 210.9h0M128.3 232.2h0M117.2 227.3h0M124.6 219.9h0M106.0 199.4h0M140.7 235.2h0M146.1 224.8h0M144.2 217.4h0M120.8 220.7h0M119.6 220.0h0M138.7 210.4h0M130.2 223.5h0M137.7 219.2h0M131.7 189.6h0M115.7 179.1h0M118.4 203.4h0M136.3 230.0h0M136.6 222.8h0M124.5 198.6h0M136.5 234.9h0M124.3 217.3h0M144.2 230.0h0M123.3 225.2h0M134.3 229.1h0M133.4 235.3h0M143.4 232.7h0M142.3 231.5h0M130.1 233.9h0M127.0 210.4h0M129.8 214.9h0M113.3 224.9h0M135.2 203.9h0M135.5 235.8h0M125.9 219.7h0M114.5 198.3h0M126.0 204.8h0M109.6 210.7h0M132.5 225.0h0M145.3 229.5h0M143.7 234.4h0M134.2 225.6h0M125.1 224.5h0M146.9 235.2h0M131.3 219.8h0M131.0 226.4h0M138.6 231.8h0M131.5 223.0h0M134.6 230.8h0M121.0 227.8h0M116.2 228.5h0M139.8 232.7h0M106.5 209.3h0M115.2 226.0h0M120.4 228.1h0M109.2 194.7h0M128.8 226.8h0M122.9 232.9h0M116.6 218.7h0M136.4 235.4h0M127.7 226.9h0M135.7 226.8h0M124.3 225.9h0M145.0 233.2h0M140.0 225.7h0M119.1 199.1h0M112.0 168.7h0M131.2 220.7h0M138.4 234.4h0M144.0 234.9h0M121.2 227.5h0M139.9 203.2h0M136.6 219.0h0M147.3 235.8h0M134.9 235.0h0M140.0 230.1h0M129.1 219.9h0M122.1 231.4h0M127.2 232.4h0M126.7 202.3h0M96.9 178.5h0M146.0 236.4h0M141.0 236.4h0M96.4 200.6h0M127.8 229.8h0M121.3 227.3h0M129.2 228.3h0M126.9 227.5h0M104.7 193.2h0M126.9 230.3h0M142.0 228.2h0M123.7 216.1h0M119.9 223.7h0M142.4 220.9h0M140.2 231.6h0M141.4 225.1h0M135.4 221.5h0M131.4 228.8h0M115.5 206.2h0M136.2 194.9h0M120.9 213.4h0M140.4 218.2h0M137.1 217.5h0M132.0 233.1h0M126.6 212.3h0M121.3 212.9h0M136.9 235.9h0M118.9 214.0h0M124.8 228.5h0M141.5 235.5h0M138.3 174.9h0M116.0 212.9h0M140.6 235.1h0M132.3 226.4h0M125.3 229.5h0M142.0 190.4h0M134.4 229.4h0M126.2 229.1h0M125.4 197.1h0M105.7 216.2h0M126.6 232.8h0M129.5 198.4h0M141.1 228.0h0M116.6 188.2h0M131.4 225.1h0M138.4 233.8h0M128.1 236.2h0M133.5 218.2h0M136.4 222.0h0M121.9 225.5h0M125.9 228.3h0M136.1 235.9h0M119.1 205.2h0M144.4 228.7h0M117.5 229.4h0M113.7 182.6h0M129.0 233.3h0M134.5 221.3h0M139.2 212.0h0M121.2 200.0h0M108.3 187.1h0M141.2 197.9h0M91.6 174.6h0M133.9 220.0h0M136.5 211.7h0M127.6 230.6h0M139.3 230.8h0M123.7 195.7h0M131.0 205.7h0M126.2 227.5h0M121.7 189.5h0M146.7 235.2h0M135.4 221.8h0M130.9 225.2h0M144.6 233.3h0M89.0 182.5h0M108.1 216.9h0M132.3 234.0h0M139.2 207.3h0M132.1 205.6h0M141.7 231.3h0M125.7 214.9h0M139.8 229.0h0M129.5 207.1h0M128.4 186.0h0M142.6 201.1h0M127.6 232.0h0M121.2 213.2h0M139.8 227.6h0M113.3 218.9h0M135.3 232.8h0M142.1 217.5h0M125.9 233.0h0M128.9 216.4h0M138.8 186.4h0M136.8 230.5h0M139.7 229.6h0M129.8 221.6h0M127.3 221.9h0M123.3 199.5h0M146.1 227.7h0M124.0 213.5h0M119.1 229.8h0M138.7 217.0h0M129.5 233.3h0M134.7 225.7h0M122.5 220.4h0M139.8 227.8h0M117.9 229.6h0M134.7 208.5h0M138.3 236.0h0M135.2 170.3h0M115.9 178.8h0M137.9 233.9h0M112.9 215.2h0M125.8 191.5h0M133.7 208.6h0M146.4 234.4h0M113.2 197.3h0M141.0 231.5h0M133.8 225.5h0M130.4 223.1h0M133.5 203.5h0M123.6 213.9h0M127.3 228.4h0M134.2 231.2h0M137.1 218.6h0M130.6 205.2h0M130.1 215.9h0M138.2 221.2h0M127.1 227.7h0M139.1 194.1h0M137.2 195.7h0M139.7 222.3h0M131.3 231.7h0M122.0 225.5h0M135.8 231.7h0M127.4 235.1h0M137.8 194.9h0M133.8 228.8h0M132.2 228.9h0M139.3 221.0h0M130.1 222.1h0M128.0 204.1h0M134.6 232.5h0M130.7 193.6h0M139.9 221.0h0M121.2 224.9h0M135.2 213.0h0M134.2 236.4h0M137.5 210.0h0M124.9 222.5h0M135.8 236.0h0M124.1 183.7h0M128.3 213.8h0M114.1 226.8h0M125.2 233.2h0M126.0 218.7h0M99.9 208.5h0M147.6 236.0h0M132.8 218.2h0M139.7 232.5h0M134.2 226.4h0M116.8 191.7h0M120.4 210.2h0M132.1 211.3h0M97.8 190.8h0M136.6 205.0h0M113.3 223.9h0M128.7 197.4h0M142.9 235.3h0M135.7 226.8h0M126.1 165.6h0M132.5 212.9h0M136.9 234.2h0M117.7 213.0h0M123.5 229.6h0M130.5 217.5h0M129.1 231.0h0M142.2 235.9h0M111.3 217.3h0M143.2 236.2h0M94.4 180.1h0M109.9 204.9h0M138.5 234.8h0M134.2 222.3h0M133.8 208.5h0M129.9 232.6h0M131.8 233.0h0M113.3 164.9h0M142.1 227.1h0M117.5 215.1h0M116.0 226.3h0M111.3 193.3h0M140.5 209.9h0M145.5 217.5h0M131.2 227.8h0M128.2 232.7h0M135.1 220.5h0M125.6 200.0h0M107.4 197.5h0M128.1 225.3h0M141.2 232.2h0M122.8 233.5h0M112.0 186.2h0M122.0 205.8h0M126.7 210.9h0M144.8 225.6h0M133.3 198.9h0M120.0 229.1h0M117.7 204.8h0M134.1 233.4h0M138.6 234.9h0M139.3 235.0h0M131.5 225.6h0M126.5 228.1h0M144.2 223.0h0M129.6 233.7h0M112.6 204.2h0M132.4 218.0h0M138.5 234.9h0M100.1 208.0h0M98.9 205.5h0M143.3 223.4h0M134.9 229.2h0M127.5 180.9h0M134.2 227.7h0M143.1 229.6h0M129.2 231.0h0M145.3 231.0h0M123.8 235.0h0M129.1 224.1h0M105.1 189.2h0M120.1 220.5h0M102.9 186.4h0M137.0 234.2h0M142.5 201.6h0M146.3 236.4h0M137.5 212.0h0M114.7 203.1h0M127.1 229.3h0M128.7 229.0h0M146.4 235.0h0M110.4 219.2h0M140.2 227.1h0M130.7 229.3h0M124.0 234.1h0M98.7 201.4h0M100.2 182.7h0M113.4 220.2h0M137.9 230.2h0M117.6 229.5h0M134.9 200.3h0M141.0 234.6h0M134.1 235.3h0M117.3 230.5h0M96.2 176.1h0M136.5 234.6h0M146.2 234.2h0M144.9 233.2h0M122.8 228.2h0M113.3 223.0h0M141.3 223.9h0M132.9 235.1h0M145.5 223.3h0M144.7 224.9h0M131.7 234.6h0M141.9 214.8h0M126.8 235.3h0M138.1 235.8h0M124.6 216.3h0M134.7 227.9h0M136.7 231.3h0M102.4 181.3h0M117.6 231.0h0M127.2 219.9h0M145.7 231.6h0M120.4 221.7h0M137.9 234.4h0M137.7 216.3h0M115.5 217.1h0M133.9 210.3h0M115.4 209.9h0M109.4 219.6h0M117.2 165.1h0M126.5 232.5h0M118.0 187.6h0M136.2 193.8h0M140.6 228.7h0M136.6 230.7h0M134.5 203.4h0M126.9 195.6h0M109.5 220.2h0M131.8 232.4h0M122.0 197.1h0M143.2 234.4h0M127.4 220.3h0M119.3 228.2h0M130.5 234.8h0M133.1 212.6h0M124.5 205.0h0M104.6 200.6h0M126.2 212.4h0M124.6 222.6h0M128.0 212.7h0M124.0 229.4h0M90.0 167.7h0M125.4 205.5h0M131.9 231.9h0M125.2 225.0h0M138.8 230.4h0M140.9 225.3h0M138.7 223.5h0M123.7 162.4h0M104.9 219.9h0M143.7 233.2h0M115.8 200.3h0M116.8 213.4h0M117.6 225.0h0M132.0 172.2h0M132.1 223.6h0M134.3 235.5h0M131.9 229.9h0M127.4 227.9h0M121.6 225.2h0M123.5 229.0h0M128.7 224.4h0M139.6 234.6h0M137.9 235.5h0M141.7 220.6h0M136.1 221.2h0M107.8 215.8h0M135.9 223.1h0M145.0 235.6h0M126.3 227.8h0M136.6 229.5h0M115.2 227.0h0M119.7 209.2h0M140.6 231.8h0M125.9 214.8h0M124.4 229.8h0M118.1 173.5h0M133.4 234.7h0M99.9 203.3h0M142.2 236.2h0M120.9 197.9h0M124.2 234.1h0M119.8 206.4h0M130.8 218.9h0M134.5 224.4h0M138.2 235.5h0M135.2 223.8h0M126.1 217.7h0M136.9 233.7h0M140.2 229.6h0M131.6 204.2h0M123.9 214.9h0M94.7 194.7h0M124.0 234.8h0M120.7 215.7h0M115.4 207.7h0M115.3 227.8h0M108.7 216.6h0M129.1 221.7h0M115.0 199.1h0M135.1 231.6h0M114.1 220.3h0M133.9 211.9h0M142.4 231.9h0M145.2 216.5h0M134.3 235.8h0M135.3 203.6h0M137.5 233.2h0M117.1 208.4h0M125.4 177.3h0M141.4 236.4h0M120.9 212.3h0M128.6 194.0h0M139.9 230.9h0M106.3 189.8h0M129.9 234.8h0M115.5 218.8h0M109.6 220.8h0M135.4 228.1h0M113.4 223.6h0M138.0 234.9h0M93.9 173.8h0M119.3 217.5h0M110.1 211.5h0M123.3 216.7h0M137.2 214.9h0M125.5 225.5h0M131.3 230.6h0M143.8 230.4h0M140.5 228.7h0M131.2 227.8h0M144.1 224.4h0M137.1 215.3h0M104.0 217.7h0M124.7 220.9h0M118.9 228.0h0M136.9 235.5h0M142.9 233.7h0M141.2 206.9h0M124.7 233.0h0M142.6 226.7h0M114.0 211.7h0M129.8 211.6h0M141.0 228.6h0M128.6 234.8h0M135.5 235.0h0M123.4 217.1h0M126.7 203.7h0M126.5 219.6h0M127.7 228.4h0M135.4 230.3h0M101.1 192.2h0M106.8 216.1h0M107.3 214.2h0M139.1 203.2h0M138.0 227.4h0M129.8 226.4h0M115.4 222.0h0M133.9 235.7h0M145.0 233.0h0M138.1 227.7h0M104.0 210.9h0M133.1 223.6h0M100.0 204.2h0M128.4 208.6h0M129.0 235.6h0M125.4 233.9h0M134.1 176.6h0M124.2 231.1h0M109.1 198.8h0M139.7 226.0h0M136.1 234.5h0M130.9 222.0h0M117.7 167.3h0M107.6 215.9h0M124.9 205.8h0M101.4 167.6h0M120.9 225.4h0M135.9 225.8h0M137.4 229.9h0M133.6 221.7h0M94.4 196.0h0M119.4 214.3h0M145.2 230.0h0M137.5 232.2h0M123.4 218.4h0M120.2 221.8h0M123.8 222.2h0M117.9 219.0h0M135.1 207.3h0M131.7 231.8h0M113.9 210.3h0M123.5 224.0h0M127.0 230.2h0M120.4 218.9h0M136.2 228.9h0M131.2 221.6h0M122.7 218.7h0M126.2 229.6h0M127.4 216.1h0M138.1 178.4h0M139.2 194.5h0M127.6 206.5h0M101.1 191.1h0M136.2 226.9h0M138.4 230.9h0M132.3 230.3h0M143.1 228.6h0M136.4 231.8h0M139.2 176.7h0M131.7 233.3h0M129.1 225.9h0M113.7 206.1h0M121.6 221.4h0M132.0 230.4h0M130.1 225.4h0M146.0 235.2h0M138.6 222.5h0M112.1 219.1h0M117.9 221.4h0M137.6 236.1h0M145.0 228.6h0M136.5 231.7h0M136.0 236.4h0M136.1 233.4h0M129.9 205.1h0M131.9 227.9h0M127.3 233.8h0M115.9 224.9h0M125.8 225.1h0M130.6 231.0h0M121.2 186.4h0M127.6 227.1h0M121.8 211.8h0M121.6 233.2h0M110.2 210.7h0M105.4 210.5h0M130.8 226.0h0M115.7 199.6h0M123.9 229.0h0M143.5 228.1h0M142.6 223.5h0M138.3 232.7h0M136.9 220.3h0M141.9 224.9h0M132.6 227.9h0M108.6 211.2h0M138.6 219.4h0M135.5 226.2h0M111.6 180.9h0M111.7 224.3h0M141.7 232.1h0M142.2 234.8h0M127.5 222.8h0M131.4 214.9h0M92.3 169.4h0M138.6 208.0h0M134.9 213.4h0M124.1 227.1h0M144.1 232.8h0M113.3 220.8h0M146.6 232.5h0M114.5 221.2h0M128.8 199.4h0M126.4 232.4h0M133.5 228.3h0M125.9 216.5h0M139.4 214.9h0M116.5 223.1h0M132.4 230.1h0M142.4 233.7h0M130.8 168.8h0M139.2 214.2h0M118.3 221.6h0M129.0 231.7h0M139.3 219.6h0M132.3 228.5h0M131.2 235.6h0M134.0 228.1h0M140.1 211.3h0M137.3 229.0h0M131.2 233.0h0M136.2 210.8h0M117.5 192.9h0M139.5 205.0h0M121.3 202.3h0M136.3 216.3h0M134.3 235.2h0M117.8 210.9h0M135.8 186.7h0M134.3 226.2h0M110.4 217.0h0M115.5 200.6h0M147.9 235.2h0M130.2 234.1h0M124.2 230.5h0M138.1 233.3h0M140.7 235.2h0M142.6 235.2h0M105.8 202.6h0M117.6 210.1h0M140.5 235.4h0M116.4 189.5h0M134.5 183.0h0M131.5 222.9h0M138.3 226.9h0M142.1 236.4h0M97.5 165.4h0M95.3 190.3h0M101.4 195.8h0M130.3 216.9h0M140.0 231.2h0M122.6 231.2h0M128.9 234.6h0M105.6 214.7h0M125.2 230.3h0M136.9 235.3h0M117.7 218.4h0M112.0 190.9h0M135.9 216.4h0M144.7 226.7h0M116.5 178.7h0M126.6 223.3h0M119.1 220.6h0M140.5 185.4h0M130.5 217.1h0M138.7 224.4h0M135.8 236.4h0M120.8 227.5h0M121.7 229.3h0M121.2 204.4h0M140.6 225.7h0M108.2 216.6h0M124.6 205.8h0M115.2 213.9h0M113.3 221.1h0M132.0 234.1h0M131.3 187.5h0M126.9 222.6h0M119.9 218.0h0M129.5 199.2h0M135.9 223.2h0M121.2 230.5h0M135.5 212.9h0M144.5 217.5h0M116.0 198.0h0M119.8 226.1h0M118.9 215.7h0M120.2 208.4h0M112.0 213.7h0M111.9 168.1h0M144.2 231.6h0M129.9 214.8h0M114.3 203.8h0M101.0 206.8h0M95.4 187.1h0M111.5 216.0h0M139.0 221.3h0M120.9 219.0h0M124.4 177.5h0M128.9 221.5h0M146.2 235.5h0M124.0 232.2h0M142.6 227.4h0M146.5 227.8h0M130.3 234.2h0M119.4 224.0h0M132.1 229.6h0M129.7 204.9h0M117.3 207.5h0M133.5 202.5h0M113.0 204.7h0M137.2 231.5h0M122.7 233.0h0M127.0 206.6h0M112.3 181.8h0M129.6 228.3h0M126.8 234.5h0M113.6 204.3h0M139.4 216.9h0M134.4 223.3h0M134.9 231.8h0M129.5 230.0h0M108.0 207.5h0M141.7 218.3h0M120.0 226.7h0M137.6 234.4h0M106.6 186.0h0M124.0 220.5h0M123.7 215.3h0M130.5 231.8h0M136.5 225.6h0M121.6 180.1h0M125.2 215.0h0M138.4 229.9h0M131.3 231.1h0M122.1 178.1h0M127.4 226.0h0M134.3 228.5h0M142.1 233.8h0M144.8 234.6h0M114.9 168.8h0M127.4 219.7h0M130.2 232.3h0M122.8 187.0h0M134.6 227.5h0M114.3 200.9h0M127.7 229.2h0M132.5 223.6h0M133.5 233.4h0M134.7 236.4h0M137.1 198.5h0M137.5 232.0h0M131.1 235.2h0M125.9 224.7h0M118.7 219.1h0M135.9 205.8h0M130.6 218.7h0M134.0 233.9h0M124.2 231.4h0M132.8 233.9h0M136.7 226.9h0M130.1 235.5h0M146.4 223.2h0M118.9 190.0h0M141.5 235.6h0M125.0 232.7h0M136.5 184.4h0M119.9 210.2h0M133.4 229.6h0M138.2 214.0h0M143.2 216.3h0M116.9 210.9h0M130.9 230.4h0M135.3 231.2h0M118.5 210.4h0M135.9 224.5h0M112.8 198.2h0M119.5 226.2h0M131.7 227.7h0M126.5 218.5h0M119.9 203.3h0M133.9 226.3h0M136.3 234.3h0M107.6 217.3h0M108.2 210.0h0M116.2 215.7h0M137.5 233.0h0M137.0 235.3h0M116.1 214.0h0M118.1 204.1h0M144.0 227.6h0M126.1 216.1h0M133.1 231.9h0M136.1 219.6h0M137.3 214.7h0M138.7 177.9h0M143.5 234.6h0M118.1 223.5h0M101.7 182.5h0M142.8 216.6h0M126.5 230.0h0M125.0 219.4h0M131.1 222.7h0M127.6 225.4h0M142.6 211.7h0M134.8 234.3h0M128.6 220.1h0M117.8 224.5h0M117.5 206.5h0M118.1 173.8h0M137.9 228.1h0M120.0 229.2h0M121.6 183.2h0M112.3 207.4h0M137.0 197.7h0M127.4 225.0h0M145.9 233.4h0M137.3 233.8h0M134.7 230.9h0M146.0 231.9h0M135.2 177.5h0M113.7 166.4h0M113.5 187.1h0M122.4 227.8h0M142.3 235.2h0M122.3 223.9h0M128.9 218.0h0M125.1 209.5h0M106.1 208.6h0M113.4 204.8h0M134.7 221.5h0M121.9 174.0h0M134.0 205.8h0M131.0 223.9h0M103.9 213.7h0M137.9 207.1h0M139.8 224.4h0M141.1 231.8h0M128.2 227.1h0M116.8 223.2h0M121.6 229.1h0M129.5 233.6h0M138.8 233.3h0M126.4 227.9h0M129.8 215.4h0M137.9 173.2h0M107.6 185.3h0M128.2 188.9h0M116.3 203.4h0M123.9 194.4h0M131.4 236.4h0M121.6 231.5h0M123.3 209.0h0M137.3 233.2h0M136.3 235.4h0M123.8 233.4h0M134.4 234.9h0M122.8 224.5h0M135.5 226.3h0M134.5 202.9h0M103.2 205.9h0M128.6 228.4h0M136.1 233.8h0M137.8 217.7h0M118.9 218.0h0M131.4 231.9h0M135.9 217.0h0M137.9 225.6h0M115.0 224.1h0M142.5 218.9h0M138.1 219.4h0M139.0 204.1h0M131.9 236.1h0M141.8 233.5h0M133.3 234.5h0M133.1 228.6h0M145.9 233.6h0M91.2 188.9h0M134.3 230.3h0M120.0 221.7h0M114.3 173.1h0M126.4 198.2h0M128.5 196.3h0M127.1 231.7h0M128.7 236.4h0M125.9 199.2h0M132.0 232.6h0M133.1 218.2h0M132.5 194.8h0M128.5 223.3h0M116.7 201.6h0M97.6 200.4h0M136.1 196.0h0M130.2 182.6h0M108.6 217.2h0M132.5 233.7h0M139.7 228.1h0M136.0 223.7h0M142.6 211.3h0M133.3 223.7h0M136.7 234.5h0M122.7 191.4h0M116.9 223.2h0M122.6 163.1h0M133.4 205.5h0M120.1 204.8h0M93.5 195.1h0M143.6 191.3h0M118.8 222.6h0M127.2 210.3h0M134.6 235.8h0M132.5 229.7h0M117.9 210.5h0M132.3 226.6h0M134.6 213.1h0M119.9 215.8h0M133.1 234.9h0M123.3 214.1h0M115.8 198.2h0M136.0 223.2h0M130.5 234.3h0M133.0 228.6h0M124.2 204.3h0M132.8 210.3h0M108.0 220.9h0M139.0 195.9h0M143.6 233.2h0M127.3 235.3h0M137.5 231.7h0M132.4 231.9h0M127.0 227.6h0M124.7 227.5h0M139.4 205.2h0M140.3 227.6h0M132.6 233.9h0M129.0 222.8h0M121.4 232.1h0M117.4 190.7h0M118.6 223.2h0M114.0 223.6h0M138.4 214.7h0M124.0 212.3h0M115.7 220.7h0M141.5 196.3h0M143.2 213.6h0M134.6 234.6h0M120.8 227.3h0M141.0 228.4h0M108.2 213.0h0M132.3 176.2h0M114.6 225.6h0M108.2 197.1h0M140.8 223.8h0M138.0 217.0h0M125.6 231.0h0M123.9 232.4h0M129.0 170.1h0M127.0 225.1h0M141.5 236.4h0M134.4 228.3h0M102.7 196.1h0M143.5 234.9h0M143.5 231.2h0M92.8 188.4h0M130.2 233.6h0M118.7 210.7h0M139.8 236.0h0M144.5 232.6h0M117.5 184.3h0M136.9 206.3h0M128.1 213.1h0M114.2 222.7h0M132.2 235.8h0M139.6 227.7h0M117.5 189.2h0M123.9 205.1h0M113.6 203.4h0M124.5 225.6h0M123.8 216.5h0M131.5 234.8h0M130.6 232.0h0M145.9 230.7h0M139.7 228.8h0M140.5 227.6h0M117.4 217.8h0M115.3 202.6h0M105.7 219.0h0M131.2 227.5h0M106.7 206.6h0M133.1 170.8h0M137.3 222.1h0M128.1 231.0h0M117.1 226.8h0M112.2 191.7h0M132.8 235.4h0M137.9 189.2h0M139.0 219.3h0M112.9 215.1h0M138.0 230.3h0M129.7 233.5h0M140.2 192.3h0M126.1 229.8h0M94.1 190.9h0M144.0 212.6h0M113.5 194.7h0M141.3 228.5h0M137.4 229.5h0M120.5 228.8h0M135.2 223.1h0M118.2 222.3h0M131.7 181.4h0M134.7 231.2h0M107.2 210.1h0M124.0 224.1h0M115.2 219.3h0M137.9 208.2h0M125.0 212.3h0M140.1 236.4h0M113.6 201.4h0M123.4 186.9h0M114.0 219.5h0M126.7 171.9h0M126.2 227.3h0M143.2 222.2h0M147.4 235.9h0M130.9 235.4h0M129.6 226.0h0M128.4 225.2h0M112.3 203.0h0M133.9 205.2h0M132.0 231.7h0M142.9 233.8h0M135.9 218.8h0M130.6 233.7h0M130.4 236.4h0M135.4 222.7h0M133.6 201.3h0M122.4 187.9h0M136.6 236.4h0M137.8 230.9h0M141.5 229.8h0M132.9 232.5h0M138.3 211.0h0M140.2 225.6h0M130.1 234.1h0M99.3 183.4h0M113.7 187.8h0M134.4 230.5h0M111.7 163.9h0M124.8 229.7h0M114.2 223.6h0M103.9 206.1h0M119.1 192.7h0M129.0 214.9h0M145.6 235.9h0M120.6 215.3h0M130.6 220.5h0M116.0 201.3h0M145.4 226.6h0M125.9 217.7h0M126.3 217.5h0M136.8 228.7h0M141.3 217.3h0M127.3 171.6h0M112.3 214.4h0M135.9 234.8h0M121.0 231.6h0M129.4 235.6h0M140.4 223.9h0M142.7 210.6h0M98.2 197.5h0M96.4 184.4h0M140.9 171.4h0M137.9 223.9h0M116.1 210.5h0M139.5 208.1h0M134.6 230.2h0M125.8 215.9h0M102.2 191.3h0M134.6 214.2h0M91.2 188.6h0M105.9 215.4h0M132.5 214.2h0M139.2 199.5h0M136.0 225.6h0M138.5 234.1h0M113.4 219.3h0M143.8 227.0h0M118.4 223.2h0M141.0 229.3h0M135.7 228.3h0M130.7 229.7h0M128.0 197.7h0M141.4 233.5h0M111.9 216.6h0M138.7 236.4h0M142.8 235.8h0M113.1 193.3h0M116.3 224.6h0M113.8 209.8h0M140.5 218.6h0M119.9 227.7h0M124.2 181.0h0M126.4 231.9h0M138.6 231.0h0M133.8 232.5h0M117.5 178.3h0M125.8 232.9h0M133.5 196.2h0M114.6 212.2h0M146.0 229.9h0M112.7 224.9h0M142.5 236.3h0M135.0 221.6h0M121.2 208.6h0M128.1 225.2h0M142.7 224.5h0M123.8 231.2h0M118.1 203.7h0M127.6 233.3h0M118.0 224.5h0M115.6 225.8h0M124.9 205.1h0M121.1 182.4h0M140.7 220.3h0M128.3 228.5h0M130.0 230.6h0M102.9 197.2h0M135.0 213.8h0M114.5 161.9h0M139.2 215.5h0M139.6 235.6h0M124.1 193.9h0M124.1 232.0h0M131.6 220.0h0M131.0 213.5h0M108.9 216.4h0M142.8 225.5h0M138.4 205.9h0M120.9 224.0h0M123.2 207.9h0M136.7 235.2h0M132.8 211.6h0M124.7 213.9h0M124.8 227.9h0M117.9 215.8h0M123.5 233.1h0M138.7 219.2h0M144.7 219.2h0M131.1 229.3h0M101.4 200.9h0M134.3 232.6h0M144.2 215.4h0M124.9 223.7h0M144.9 233.9h0M145.0 202.5h0M131.0 228.7h0M130.9 225.4h0M127.7 225.0h0M126.0 207.8h0M115.4 212.5h0M130.3 223.4h0M124.5 223.5h0M121.6 217.7h0M112.5 225.5h0M111.0 223.4h0M127.1 232.7h0M114.6 213.1h0M121.2 224.0h0M126.4 213.5h0M127.0 224.1h0M122.6 215.1h0M140.0 233.6h0M137.3 215.3h0M126.7 233.7h0M108.9 173.0h0M132.9 230.3h0M125.1 206.8h0M140.3 235.6h0M138.9 212.4h0M142.4 236.4h0M140.0 218.3h0M120.0 221.1h0M141.6 222.1h0M140.7 209.3h0M119.8 231.8h0M137.6 228.8h0M128.1 233.9h0M130.7 231.4h0M139.1 223.6h0M113.7 193.1h0M141.1 179.5h0M131.7 229.8h0M101.0 197.3h0M105.4 194.9h0M124.4 228.3h0M145.1 234.9h0M109.7 204.6h0M135.0 228.2h0M132.5 227.4h0M117.4 227.9h0M140.3 224.5h0M136.4 231.0h0M120.8 214.1h0M139.1 199.5h0M164.7 214.9h0M161.5 212.7h0M174.7 212.9h0M161.8 234.7h0M159.0 220.6h0M152.9 227.0h0M161.5 231.2h0M158.0 231.2h0M151.3 224.7h0M155.2 234.2h0M154.0 214.9h0M168.1 214.5h0M149.2 234.1h0M158.9 210.9h0M151.4 224.0h0M154.9 229.8h0M154.2 221.7h0M154.4 233.0h0M164.9 220.8h0M167.2 201.1h0M165.9 230.5h0M159.1 233.1h0M153.2 235.2h0M149.0 228.5h0M160.8 214.6h0M148.3 234.4h0M153.4 227.9h0M159.5 230.3h0M166.2 231.3h0M154.6 219.3h0M157.2 217.2h0M152.5 231.4h0M156.7 207.3h0M152.6 236.2h0M159.2 233.0h0M152.8 232.6h0M150.4 228.7h0M149.3 236.3h0M170.8 216.7h0M162.6 235.6h0M148.4 235.8h0M162.0 199.8h0M155.1 221.9h0M159.5 202.5h0M157.6 230.4h0M160.8 229.4h0M160.4 235.5h0M148.8 234.8h0M154.0 231.2h0M161.3 232.2h0M155.4 231.2h0M164.3 231.6h0M158.8 227.7h0M155.9 223.4h0M156.6 234.7h0M165.2 225.8h0M168.1 226.1h0M162.1 236.2h0M154.7 233.4h0M151.2 232.1h0M151.1 234.1h0M171.5 204.6h0M156.8 210.7h0M170.2 221.4h0M152.4 233.8h0M169.1 198.0h0M158.6 232.5h0M147.6 234.5h0M148.5 233.9h0M147.5 231.1h0M155.3 227.2h0M145.6 235.5h0M161.7 231.2h0M153.2 233.9h0M164.9 227.7h0M153.2 232.6h0M169.5 222.6h0M164.2 227.5h0M156.5 233.2h0M152.5 230.8h0M159.4 224.7h0M160.7 236.4h0M152.7 225.4h0M151.2 224.2h0M151.0 234.5h0M157.5 232.5h0M154.1 223.1h0M146.1 235.2h0M164.7 223.2h0M162.3 229.5h0M159.0 216.0h0M156.0 232.2h0M180.6 198.3h0M153.4 234.0h0M150.0 233.2h0M154.8 225.1h0M171.7 215.4h0M154.5 210.9h0M158.1 227.9h0M150.0 235.7h0M152.3 215.0h0M152.9 234.8h0M161.9 233.2h0M164.0 231.2h0M166.6 227.6h0M150.9 223.4h0M157.9 219.5h0M150.8 227.3h0M157.8 234.4h0M164.3 230.8h0M151.7 225.9h0M164.0 217.9h0M149.7 235.4h0M150.7 232.5h0M164.2 207.8h0M158.9 219.0h0M157.5 234.4h0M162.0 233.4h0M150.8 228.1h0M150.9 234.6h0M160.7 229.4h0M152.0 225.7h0M160.3 236.4h0M159.4 236.4h0M153.2 231.3h0M154.8 235.7h0M155.1 228.3h0M155.1 224.4h0M164.2 230.0h0M152.3 234.9h0M160.8 231.8h0M151.7 232.0h0M152.0 234.7h0M163.6 226.4h0M155.7 231.0h0M164.3 232.1h0M150.9 227.2h0M158.9 231.9h0M147.2 231.2h0M151.4 231.9h0M151.3 231.4h0M157.8 227.6h0M156.2 233.9h0M148.1 231.0h0M153.7 232.7h0M158.2 232.9h0M149.5 234.3h0M168.6 221.0h0M158.4 214.6h0M150.6 235.5h0M147.5 233.7h0M164.8 226.1h0M161.9 219.8h0M160.1 218.2h0M155.6 227.8h0M163.8 216.1h0M154.0 232.8h0M171.5 220.0h0M160.7 231.3h0M164.4 205.5h0M146.1 234.1h0M155.3 235.4h0M154.1 223.8h0M164.8 228.2h0M154.6 234.3h0M161.3 229.2h0M167.5 227.8h0M152.9 223.4h0M156.2 225.5h0M152.9 219.8h0M161.2 236.4h0M153.2 215.3h0M149.9 234.9h0M153.5 221.9h0M163.2 231.5h0M158.8 222.1h0M166.0 227.6h0M151.8 228.1h0M148.7 234.1h0M154.5 236.3h0M153.3 232.3h0M160.5 203.7h0M158.6 236.3h0M170.9 221.8h0M162.4 222.2h0M165.9 228.5h0M156.2 230.9h0M163.1 234.7h0M156.0 231.9h0M163.3 236.3h0M168.6 220.3h0M164.1 232.5h0M165.1 229.2h0M156.7 233.5h0M156.9 227.8h0M146.0 233.8h0M154.7 222.6h0M150.7 231.3h0M158.3 227.7h0M160.7 230.3h0M154.7 230.1h0M160.4 232.9h0M152.4 232.5h0M171.5 206.2h0M153.4 225.4h0M166.2 229.8h0M158.5 229.8h0M158.9 224.2h0M150.3 236.3h0M148.1 232.7h0M159.2 217.8h0M164.8 231.2h0M157.4 235.7h0M156.2 229.9h0M164.5 235.7h0M153.0 233.2h0M150.2 233.3h0M160.5 234.7h0M151.9 224.6h0M164.3 210.4h0M159.4 235.4h0M153.6 220.6h0M145.8 233.8h0M149.3 233.5h0M163.3 227.3h0M167.8 213.2h0M153.9 236.4h0M152.1 233.6h0M165.7 228.5h0M156.8 235.6h0M161.0 226.9h0M170.6 214.8h0M159.0 228.5h0M161.5 231.3h0M164.2 231.3h0M150.5 228.0h0M149.9 236.4h0M147.2 232.1h0M152.9 224.6h0M157.9 233.1h0M150.5 235.1h0M152.4 231.5h0M155.0 223.6h0M160.7 229.0h0M152.8 233.9h0M177.8 205.1h0M155.6 227.1h0M149.5 225.6h0M163.5 226.3h0M155.1 232.7h0M167.0 229.1h0M159.2 236.4h0M155.1 231.4h0M151.4 235.6h0M152.3 231.2h0M167.2 224.2h0M152.0 231.5h0M165.8 231.2h0M161.8 222.3h0M156.5 235.1h0M167.4 226.6h0M155.3 234.8h0M148.5 233.1h0M150.4 235.7h0M65.5 196.5h0M82.0 206.0h0M87.0 163.0h0M168.0 170.0h0M183.0 171.0h0M176.0 191.0h0M186.0 197.0h0M170.0 197.0h0M92.0 182.0h0M90.5 205.8h0M89.5 213.5h0M90.5 220.2h0M96.0 206.7h0" stroke="#0e5283" stroke-width="1.95" stroke-linecap="round" fill="none"/><path d="M89.6 58.7h0M135.1 61.2h0M127.7 110.8h0M134.9 110.8h0M137.4 112.5h0M128.5 114.3h0M93.8 125.1h0M125.8 130.0h0M126.5 133.1h0M133.1 133.1h0M134.9 135.1h0M129.7 138.2h0M89.7 147.7h0M91.2 149.7h0M93.5 151.8h0M98.5 150.5h0M100.8 150.5h0M103.1 150.5h0M107.7 150.5h0M108.5 156.2h0M109.7 155.1h0M114.2 158.2h0M115.4 156.9h0M118.5 159.2h0M123.1 156.9h0M130.8 150.0h0M132.6 150.0h0M133.8 149.2h0M135.7 147.7h0M134.9 153.1h0" stroke="#d0102a" stroke-width="2.3" stroke-linecap="round" fill="none"/><path d="M151.4 504.6h0M132.6 504.2h0M149.9 501.9h0M132.2 504.6h0M143.8 504.6h0M147.4 496.9h0M133.2 499.8h0M144.9 502.8h0M140.2 502.8h0M143.2 498.7h0M126.7 503.8h0M136.1 503.3h0M147.9 500.4h0M149.3 503.2h0M148.3 499.2h0M145.8 502.7h0M146.2 502.4h0M135.0 503.0h0M133.8 501.2h0M146.3 499.1h0M133.3 503.2h0M140.0 503.3h0M130.2 498.8h0M147.2 499.3h0M123.9 504.3h0M124.7 503.3h0M139.2 503.2h0M144.6 497.5h0M143.8 500.3h0M151.3 504.5h0M151.6 504.1h0M139.8 498.7h0M140.8 503.8h0M152.3 504.6h0M148.0 498.1h0M150.8 504.3h0M128.7 503.6h0M142.2 498.0h0M150.7 501.5h0M119.4 503.9h0M148.9 504.0h0M143.7 500.6h0M144.0 504.2h0M123.8 502.8h0M138.4 503.5h0M123.9 504.6h0M148.4 504.5h0M136.2 503.5h0M148.2 502.7h0M118.0 503.8h0M148.1 500.4h0M126.6 503.3h0M133.7 504.4h0M137.7 502.8h0M122.2 504.3h0M150.9 503.1h0M149.8 503.7h0M144.9 498.7h0M144.5 499.2h0M140.4 504.6h0M149.5 503.5h0M151.0 504.2h0M134.7 501.7h0M144.7 502.9h0M120.6 503.7h0M136.6 500.6h0M142.8 499.3h0M134.0 500.1h0M120.4 504.6h0M151.7 504.6h0M133.4 497.9h0M137.0 503.3h0M146.0 501.0h0M146.6 500.3h0M135.2 502.9h0M126.0 503.9h0M148.1 499.2h0M138.8 500.3h0M149.0 502.3h0M143.8 496.4h0M133.2 504.3h0M142.8 502.2h0M150.8 504.5h0M127.5 503.8h0M151.5 504.0h0M137.8 504.1h0M131.0 503.9h0M139.8 501.4h0M124.4 503.7h0M143.0 499.9h0M126.3 503.0h0M132.6 504.1h0M143.5 499.4h0M151.1 504.6h0M140.1 498.4h0M131.1 504.6h0M135.7 500.0h0M131.7 501.8h0M145.1 499.7h0M131.3 502.6h0M132.0 504.6h0M127.5 503.8h0M127.9 502.0h0M121.7 502.4h0M151.7 504.6h0M150.8 503.9h0M130.2 502.8h0M131.7 503.1h0M131.4 503.9h0M138.6 504.0h0M139.3 503.2h0M152.0 504.6h0M128.7 503.2h0M119.2 504.3h0M140.2 499.9h0M126.2 504.6h0M149.6 504.1h0M134.6 502.5h0M134.9 502.0h0M129.4 503.2h0M134.7 501.3h0M119.3 504.5h0M147.3 503.0h0M126.2 504.1h0M126.3 503.2h0M136.1 503.6h0M143.0 501.9h0M136.3 504.4h0M130.4 504.6h0M140.0 503.9h0M146.1 501.7h0M129.9 503.6h0M123.3 504.3h0M139.6 497.5h0M145.3 495.9h0M146.8 503.4h0M137.7 503.8h0M128.2 503.4h0M151.1 503.7h0M124.1 503.4h0M145.7 501.5h0M138.5 504.6h0M147.0 503.5h0M140.7 503.7h0M137.4 501.7h0M149.3 503.9h0M143.9 499.5h0M137.0 503.7h0M151.0 504.6h0M143.5 502.7h0M149.1 502.7h0M138.5 501.3h0M141.2 502.7h0M136.0 497.9h0M115.5 504.4h0M136.7 500.7h0M147.1 504.4h0M124.5 504.2h0M131.5 501.8h0M142.8 503.9h0M149.3 498.9h0M138.5 504.3h0M144.2 503.4h0M123.0 502.8h0M151.1 504.6h0M142.9 499.2h0M120.9 503.7h0M139.3 504.4h0M125.5 504.4h0M133.8 499.9h0M138.9 504.6h0M129.4 504.6h0M149.2 503.9h0M149.1 504.6h0M140.4 504.2h0M139.7 499.9h0M138.2 504.2h0M128.2 502.1h0M149.7 503.9h0M149.3 501.7h0M143.4 503.5h0M152.4 504.6h0M147.0 502.9h0M151.1 503.8h0M146.7 502.3h0M130.9 502.6h0M125.3 503.9h0M127.7 501.7h0M143.0 498.2h0M132.9 502.3h0M141.1 504.5h0M145.8 501.5h0M130.8 501.1h0M135.2 503.9h0M121.7 502.5h0M135.6 503.3h0M150.5 504.4h0M125.3 503.3h0M132.7 503.4h0M137.3 503.1h0M119.7 504.6h0M128.9 504.3h0M123.4 504.5h0M126.7 503.6h0M132.2 503.0h0M130.8 504.6h0M142.0 504.2h0M146.7 503.1h0M146.8 504.5h0M130.0 501.2h0M131.4 500.7h0M139.1 504.2h0M147.1 503.9h0M136.7 504.4h0M132.6 499.8h0M148.5 501.6h0M119.1 502.1h0M129.3 503.3h0M131.3 500.7h0M124.6 504.1h0M136.5 504.6h0M121.5 503.8h0M142.3 504.5h0M128.4 502.4h0M142.7 503.9h0M121.6 503.7h0M137.6 504.6h0M125.8 503.3h0M119.3 503.0h0M121.0 503.3h0M137.3 504.5h0M151.7 504.4h0M142.3 504.2h0M120.1 503.6h0M149.6 501.7h0M131.8 499.9h0M128.8 503.3h0M150.9 502.6h0M143.2 501.3h0M130.2 500.4h0M137.6 502.1h0M118.9 504.6h0M141.1 502.9h0M138.9 502.8h0M141.5 501.6h0M128.0 504.3h0M130.6 502.5h0M129.9 503.4h0M126.0 504.3h0M132.3 503.8h0M139.2 504.6h0M129.7 503.1h0M147.2 503.5h0M134.2 504.5h0M128.0 504.0h0M134.5 501.5h0M137.8 500.6h0M122.1 502.3h0M143.7 501.8h0M115.4 504.4h0M133.8 501.0h0M120.8 504.3h0M139.5 498.6h0M131.9 503.2h0M143.6 498.4h0M120.9 503.6h0M117.3 504.5h0M149.9 503.3h0M137.5 499.4h0M148.0 502.0h0M141.3 500.3h0M143.7 499.5h0M132.0 501.5h0M150.1 503.6h0M120.4 504.6h0M133.7 502.2h0M139.1 503.0h0M145.7 504.6h0M142.0 504.1h0M144.7 503.3h0M145.1 504.0h0M128.9 503.4h0M125.6 503.2h0M142.7 502.8h0M127.8 504.4h0M135.9 504.6h0M147.0 503.1h0M132.1 504.2h0M136.5 499.5h0M141.6 504.3h0M125.5 504.4h0M133.0 504.1h0M146.3 502.1h0M121.4 504.2h0M137.9 502.9h0M126.7 503.8h0M149.5 504.6h0M131.1 504.1h0M122.2 504.5h0M151.4 504.6h0M135.1 503.3h0M123.6 503.6h0M131.5 503.5h0M148.8 499.8h0M146.1 502.4h0M131.9 503.9h0M150.6 503.5h0M146.2 504.6h0M141.6 500.0h0M128.6 502.1h0M147.0 503.3h0M126.2 504.2h0M127.5 503.0h0M146.1 504.5h0M141.7 502.6h0M132.9 503.0h0M139.7 504.5h0M145.6 502.9h0M127.3 503.2h0M145.3 496.9h0M128.2 503.8h0M133.8 500.1h0M151.9 504.3h0M123.3 503.5h0M138.3 503.0h0M141.0 501.5h0M120.5 504.0h0M136.4 504.1h0M133.8 504.6h0M132.1 504.2h0M135.7 497.3h0M144.1 502.5h0M135.9 504.6h0M120.9 504.2h0M138.9 503.6h0M133.5 503.8h0M143.7 501.8h0M141.7 498.3h0M134.7 501.8h0M138.3 504.0h0M143.9 501.8h0M138.2 504.4h0M129.5 503.4h0M137.2 503.9h0M136.7 502.5h0M137.4 501.0h0M129.4 503.6h0M151.4 504.6h0M149.2 504.6h0M147.2 504.5h0M129.6 504.5h0M139.2 501.4h0M133.2 503.8h0M145.3 498.9h0M123.5 504.6h0M131.3 503.8h0M145.6 501.0h0M151.6 504.3h0M122.5 504.3h0M145.1 500.9h0M144.0 504.5h0M148.7 504.0h0M134.3 500.7h0M144.8 502.9h0M144.1 504.0h0M136.0 503.3h0M124.9 504.0h0M128.7 504.2h0M132.2 503.9h0M128.1 502.0h0M123.0 503.1h0M142.4 503.1h0M118.5 504.5h0M138.5 504.6h0M144.8 501.1h0M134.3 503.0h0M128.4 504.3h0M134.7 503.6h0M150.8 502.6h0M123.4 502.3h0M150.2 504.3h0M132.2 504.0h0M135.8 504.2h0M148.3 499.8h0M130.6 501.7h0M137.5 501.3h0M125.7 503.6h0M137.6 502.9h0M140.5 502.6h0M124.7 503.3h0M147.2 503.0h0M132.4 502.7h0M125.4 503.5h0M150.4 504.4h0M150.0 504.6h0M129.7 502.2h0M128.9 503.3h0M136.4 501.7h0M118.7 503.9h0M131.8 504.6h0M146.1 504.4h0M129.8 502.5h0M145.8 496.9h0M141.5 504.5h0M139.8 503.5h0M130.7 504.2h0M122.7 504.6h0M148.7 503.3h0M133.4 502.8h0M118.1 503.6h0M132.2 504.4h0M124.6 503.1h0M147.6 500.5h0M122.6 503.8h0M146.5 504.6h0M146.3 502.4h0M148.3 502.7h0M147.9 503.3h0M147.6 499.9h0M146.9 499.4h0M118.9 504.6h0M133.3 504.6h0M143.3 503.9h0M129.8 503.1h0M141.5 499.9h0M131.6 499.7h0M138.6 500.4h0M143.8 504.5h0M123.3 503.9h0M148.4 501.8h0M118.2 504.5h0M127.7 504.5h0M141.7 500.6h0M145.5 500.1h0M139.1 495.9h0M147.5 497.3h0M147.1 501.9h0M129.6 501.5h0M132.6 503.4h0M135.6 503.0h0M143.7 503.2h0M127.5 503.0h0M134.5 502.5h0M134.9 500.5h0M127.0 503.2h0M140.9 501.6h0M145.9 502.4h0M147.3 501.7h0M137.2 504.3h0M149.5 502.7h0M128.1 504.6h0M134.0 504.2h0M150.2 503.7h0M137.5 499.8h0M140.1 500.4h0M136.9 504.4h0M123.6 503.1h0M146.7 497.7h0M142.7 500.9h0M149.5 503.5h0M150.8 503.4h0M150.1 500.4h0M134.7 501.7h0M148.0 501.8h0M146.0 501.2h0M124.6 502.0h0M144.6 499.3h0M142.9 501.2h0M142.4 503.2h0M141.7 504.3h0M143.1 498.2h0M146.7 497.3h0M148.4 504.4h0M129.1 504.0h0M139.2 498.4h0M135.2 503.0h0M152.3 504.6h0M142.7 501.0h0M123.9 501.9h0M148.9 503.9h0M144.3 502.1h0M125.4 503.2h0M130.9 500.1h0M150.2 504.4h0M131.7 502.7h0M136.1 501.2h0M136.2 502.7h0M150.8 504.3h0M149.0 504.3h0M146.5 504.2h0M144.8 504.5h0M142.2 497.4h0M147.3 504.0h0M148.9 502.8h0M132.3 504.1h0M148.6 499.9h0M136.6 502.1h0M121.6 503.7h0M133.3 502.0h0M136.4 498.8h0M134.5 500.7h0M136.0 504.5h0M135.7 499.6h0M145.2 498.9h0M136.3 504.6h0M140.2 503.3h0M130.2 503.2h0M147.8 502.5h0M134.3 503.3h0M135.3 499.7h0M141.7 503.9h0M146.5 502.9h0M144.6 501.4h0M123.2 504.0h0M145.6 504.3h0M143.9 501.4h0M139.8 503.3h0M146.2 502.1h0M135.2 503.4h0M144.9 502.3h0M136.8 499.9h0M147.8 503.8h0M152.1 504.6h0M134.5 504.0h0M131.3 504.5h0M123.4 504.3h0M124.6 504.6h0M146.4 503.2h0M129.8 504.6h0M135.0 504.1h0M150.2 504.3h0M133.4 501.6h0M121.3 503.4h0M149.0 504.4h0M140.8 502.3h0M131.6 500.2h0M133.5 503.7h0M129.9 504.5h0M137.1 504.2h0M142.1 503.6h0M148.0 504.5h0M136.2 500.1h0M137.1 497.8h0M137.9 502.6h0M132.8 503.4h0M140.0 500.0h0M148.6 504.3h0M119.2 504.0h0M119.3 504.6h0M141.4 503.5h0M142.5 498.6h0M135.5 501.7h0M147.2 502.9h0M142.0 504.6h0M132.9 500.3h0M148.9 503.3h0M151.8 504.6h0M132.6 502.8h0M146.9 504.1h0M148.0 503.5h0M145.1 496.6h0M147.1 504.3h0M145.8 502.0h0M141.3 503.1h0M124.9 504.1h0M139.7 503.1h0M135.2 503.7h0M143.6 503.5h0M139.2 501.7h0M121.3 503.3h0M128.1 503.7h0M129.1 502.3h0M141.0 498.1h0M143.2 503.0h0M149.8 504.5h0M144.6 501.0h0M134.7 504.2h0M148.9 502.4h0M121.0 504.6h0M135.9 499.5h0M143.8 501.0h0M148.2 504.6h0M135.1 503.8h0M151.9 504.5h0M149.8 504.6h0M129.7 502.5h0M138.6 502.3h0M130.0 503.8h0M132.5 501.6h0M148.8 504.2h0M142.2 503.3h0M145.0 499.7h0M132.6 502.8h0M146.2 500.2h0M142.7 503.7h0M142.7 500.4h0M147.7 503.4h0M151.2 504.0h0M143.5 502.6h0M139.8 504.6h0M164.3 493.7h0M174.9 504.1h0M167.7 502.6h0M181.5 495.3h0M173.3 493.2h0M162.5 501.3h0M178.8 498.4h0M156.7 500.0h0M171.1 502.2h0M160.0 502.4h0M170.1 497.9h0M171.0 494.0h0M152.9 504.6h0M175.8 493.5h0M174.8 492.5h0M158.9 499.6h0M163.9 499.0h0M177.5 503.4h0M155.5 504.3h0M166.3 491.2h0M175.2 493.6h0M157.4 497.9h0M167.6 500.4h0M176.8 504.3h0M156.0 503.0h0M153.1 504.6h0M168.8 499.3h0M167.0 502.8h0M167.2 502.0h0M163.2 497.6h0M175.1 489.2h0M166.4 502.8h0M164.7 499.8h0M174.1 502.2h0M169.8 496.7h0M168.1 501.8h0M169.7 495.2h0M167.1 484.3h0M163.0 501.0h0M169.3 493.7h0M163.7 500.1h0M174.2 497.6h0M162.8 502.1h0M168.7 494.3h0M161.6 493.5h0M168.6 497.4h0M166.9 498.2h0M161.0 487.6h0M160.8 498.0h0M174.2 499.9h0M158.7 504.3h0M178.7 497.6h0M174.3 499.3h0M180.4 499.3h0M165.0 503.2h0M161.1 497.0h0M152.4 504.6h0M162.4 502.1h0M158.8 504.0h0M163.5 503.3h0M169.5 504.4h0M164.7 501.1h0M175.7 488.2h0M165.8 497.1h0M155.8 501.1h0M159.8 491.2h0M169.2 487.7h0M161.6 500.9h0M165.8 498.5h0M165.1 499.7h0M160.5 498.0h0M169.8 501.4h0M161.3 499.2h0M155.9 502.5h0M180.1 493.9h0M168.6 494.6h0M169.1 499.4h0M173.4 504.0h0M166.3 494.9h0M153.5 504.4h0M175.8 490.4h0M174.6 499.3h0M156.6 502.9h0M167.5 496.2h0M157.7 494.4h0M166.1 502.8h0M178.6 501.1h0M178.0 504.3h0M152.6 504.6h0M174.2 493.1h0M171.6 482.8h0M167.8 503.4h0M165.7 500.3h0M177.2 501.8h0M157.5 501.1h0M161.1 499.6h0M164.7 490.6h0M169.6 498.3h0M173.9 504.6h0M157.1 504.3h0M156.8 504.6h0M159.3 494.7h0M170.8 496.1h0M163.8 503.3h0M168.3 498.8h0M178.8 494.5h0M167.9 499.5h0M154.6 503.1h0M179.4 500.7h0M158.2 500.1h0M166.2 504.3h0M163.3 503.0h0M167.2 500.1h0M169.4 502.1h0M177.2 502.6h0M161.3 499.6h0M153.2 504.2h0M176.7 503.5h0M166.7 481.9h0M166.2 501.1h0M164.6 501.6h0M177.9 504.3h0M153.3 504.6h0M158.0 504.3h0M171.3 491.8h0M170.0 504.4h0M174.7 492.7h0M176.7 496.6h0M161.5 502.5h0M160.9 502.7h0M168.7 492.4h0M176.9 500.6h0M156.5 503.8h0M156.5 496.9h0M172.0 495.0h0M156.1 502.0h0M163.0 499.9h0M165.1 488.4h0M161.5 503.1h0M170.8 500.5h0M173.1 500.9h0M171.7 497.0h0M157.7 503.9h0M177.8 499.5h0M161.4 499.4h0M163.3 501.4h0M162.1 503.5h0M165.6 498.4h0M168.1 493.4h0M155.2 502.8h0M164.0 493.6h0M162.8 504.0h0M166.8 497.4h0M165.3 501.3h0M172.3 501.8h0M174.0 504.5h0M173.4 496.4h0M175.1 504.6h0M162.8 494.5h0M175.7 501.9h0M162.4 503.9h0M172.6 500.4h0M173.1 490.0h0M162.0 503.0h0M160.8 497.8h0M166.6 496.2h0M166.3 496.8h0M168.1 494.8h0M179.3 502.6h0M180.7 496.5h0M177.7 500.1h0M170.1 502.5h0M171.0 496.1h0M175.5 497.5h0M178.5 500.2h0M173.5 503.5h0M167.8 504.2h0M172.7 497.8h0M154.5 501.2h0M171.2 502.9h0M164.4 502.9h0M159.2 499.7h0M176.4 492.5h0M155.2 503.0h0M162.2 502.9h0M174.1 497.2h0M175.8 491.1h0M175.3 500.8h0M166.9 504.4h0M172.0 497.1h0M167.9 503.4h0M177.2 500.5h0M170.3 486.7h0M170.1 494.3h0M168.6 498.2h0M168.2 492.6h0M173.8 495.8h0M169.1 483.3h0M168.2 500.1h0M172.5 502.1h0M170.3 502.7h0M156.6 501.1h0M176.1 498.5h0M173.4 496.5h0M166.5 489.2h0M181.5 503.1h0M170.2 503.0h0M173.0 500.1h0M167.9 502.2h0M180.8 503.0h0M167.8 495.5h0M172.5 500.2h0M166.0 502.5h0M161.3 500.8h0M160.0 497.1h0M179.6 498.3h0M172.7 491.5h0M176.8 498.5h0M162.0 496.4h0M162.1 498.5h0M162.0 502.7h0M168.5 501.4h0M160.4 497.1h0M165.4 497.5h0M163.6 495.0h0M159.9 498.7h0M164.6 504.1h0M169.0 504.3h0M178.0 492.3h0M168.1 504.0h0M163.6 491.6h0M176.5 498.7h0M159.6 504.6h0M169.8 503.1h0M168.1 504.0h0M160.0 504.6h0M162.2 504.4h0M163.5 502.5h0M178.7 502.3h0M169.3 493.0h0M152.7 504.3h0M178.8 501.9h0M163.0 499.0h0M163.5 500.5h0M154.8 504.6h0M163.9 501.6h0M167.1 498.4h0M174.8 499.7h0M171.3 491.8h0M166.2 503.2h0M155.8 504.5h0M170.1 493.3h0M172.2 497.6h0M155.0 502.2h0M163.4 503.8h0M161.8 497.5h0M171.6 498.8h0M170.1 496.4h0M170.0 498.8h0M172.0 499.7h0M156.0 502.4h0M152.3 504.6h0M162.9 501.7h0M165.7 496.1h0M158.9 491.5h0M172.0 499.7h0M176.2 503.3h0M162.3 503.6h0M159.4 500.9h0M161.2 500.4h0M166.2 494.4h0M163.3 496.7h0M158.2 500.6h0M156.7 504.6h0M159.6 500.7h0M168.7 500.7h0M154.6 503.5h0M166.1 489.8h0M162.3 500.5h0M161.2 503.4h0M154.7 504.5h0M160.2 499.3h0M156.5 501.1h0M163.9 502.2h0M155.6 500.5h0M167.2 504.2h0M178.6 496.5h0M153.6 504.6h0M157.1 500.0h0M161.7 500.4h0M174.5 502.8h0M155.8 501.2h0M169.9 499.0h0M171.8 496.4h0M155.5 502.9h0M166.9 498.8h0M165.8 493.1h0M158.7 504.4h0M154.6 502.6h0M167.4 492.2h0M158.7 495.5h0M159.5 494.7h0M166.4 499.2h0M180.4 497.7h0M159.4 500.6h0M155.3 502.3h0M170.5 500.8h0M158.1 502.9h0M169.4 502.6h0M165.3 500.0h0M173.3 491.3h0M153.9 504.6h0M177.4 499.4h0M168.6 495.4h0M171.4 497.2h0M158.2 504.3h0M179.3 501.4h0M167.9 502.7h0M159.5 499.7h0M178.3 498.6h0M161.3 504.2h0M166.7 502.1h0M180.8 504.4h0M156.1 501.5h0M171.1 503.5h0M178.1 497.6h0M175.3 501.2h0M161.6 489.9h0M172.9 503.7h0M163.5 503.4h0M170.1 498.7h0M161.9 504.1h0M177.6 498.9h0M157.5 501.2h0M173.1 500.0h0M168.8 497.1h0M161.9 503.1h0M162.9 503.4h0M160.6 497.2h0M164.1 497.2h0M178.6 502.6h0M174.0 502.1h0M161.8 503.3h0M163.3 497.8h0M167.6 496.7h0M162.0 495.6h0M178.5 501.4h0M162.4 495.8h0M154.2 501.4h0M162.0 500.0h0M160.9 503.2h0M153.2 504.4h0M162.5 498.6h0M161.4 501.9h0M160.4 495.2h0M167.0 503.9h0M168.6 495.9h0M168.5 498.4h0M167.9 504.3h0M167.8 500.3h0M170.8 498.5h0M163.0 502.8h0M157.5 504.4h0M159.5 504.2h0M175.5 494.7h0M169.5 501.9h0M155.7 503.1h0M170.6 494.7h0M159.4 497.3h0M157.4 502.5h0M168.9 495.1h0M168.7 493.4h0M172.5 497.6h0M163.5 495.5h0M156.9 503.7h0M163.4 498.6h0M155.4 500.9h0M168.4 503.7h0M159.5 502.7h0M164.1 502.8h0M173.0 501.8h0M162.2 495.5h0M163.0 496.2h0M156.1 504.0h0M161.0 501.7h0M175.5 504.0h0M174.3 501.3h0M159.4 501.8h0M171.5 491.9h0M166.9 502.6h0M168.1 494.7h0M175.0 497.6h0M160.7 491.4h0M163.0 500.9h0M158.8 499.9h0M154.2 504.6h0M160.4 504.0h0M167.6 498.1h0M165.5 493.6h0M163.7 504.6h0M155.0 503.6h0M159.8 501.8h0M178.4 501.2h0M173.5 485.5h0M152.9 504.6h0M168.2 496.1h0M161.2 500.2h0M167.4 496.0h0M152.4 504.6h0M181.9 501.5h0M173.8 503.9h0M161.4 504.0h0M160.6 489.0h0M152.6 504.6h0M161.7 501.1h0M159.7 498.3h0M171.7 500.0h0M171.9 500.5h0M163.3 499.7h0M160.7 498.4h0M167.3 504.3h0M158.0 499.6h0M155.1 503.8h0M160.1 495.2h0M157.6 501.8h0M175.3 494.6h0M157.1 504.5h0M173.9 503.5h0M161.9 497.6h0M178.9 498.3h0M177.3 496.0h0M172.7 495.0h0M166.8 499.4h0M179.2 504.2h0M173.4 494.6h0M180.9 495.8h0M154.7 504.4h0M153.3 504.6h0M162.2 499.7h0M164.1 497.8h0M175.7 494.2h0M160.8 501.4h0M173.6 503.2h0M155.5 499.0h0M172.9 492.5h0M163.8 503.6h0M158.3 495.3h0M157.6 498.4h0M153.9 502.7h0M158.6 499.5h0M160.9 494.6h0M178.9 503.1h0M158.5 495.2h0M154.8 504.5h0M176.4 495.8h0M157.0 503.1h0M176.5 497.1h0M159.7 501.6h0M180.7 499.8h0M168.7 500.2h0M158.4 493.7h0M166.2 499.2h0M155.4 504.6h0M163.5 504.0h0M156.7 503.7h0M168.6 488.0h0M155.7 504.1h0M160.0 500.2h0M169.0 503.2h0M172.3 504.2h0M155.0 503.6h0M181.0 504.4h0M178.0 502.4h0M167.0 486.6h0M165.3 498.8h0M161.8 498.8h0M159.8 502.3h0M167.4 500.8h0M162.5 500.3h0M154.4 502.6h0M173.0 499.8h0M165.4 491.7h0M159.2 496.1h0M165.7 504.2h0M170.9 504.1h0M170.5 496.8h0M164.3 494.2h0M158.5 504.2h0M178.4 502.8h0M173.2 502.2h0M160.3 502.0h0M161.0 502.1h0M179.1 502.2h0M166.3 503.3h0M160.0 500.7h0M175.6 496.0h0M156.0 501.3h0M151.6 504.6h0M160.6 502.5h0M164.7 503.1h0M180.1 503.9h0M171.3 500.8h0M157.6 500.8h0M159.1 502.7h0M175.1 492.3h0M163.4 498.5h0M170.6 500.6h0M162.2 498.8h0M166.6 496.4h0M175.4 502.0h0M169.4 500.1h0M154.7 504.6h0M171.6 500.0h0M168.6 490.3h0M179.7 497.9h0M160.2 503.8h0M162.1 498.6h0M179.2 501.0h0M159.7 503.1h0M165.8 492.2h0M174.9 491.6h0M160.3 504.4h0M176.7 503.5h0M168.4 496.5h0M155.6 501.8h0M158.2 503.1h0M175.5 504.6h0M176.9 502.6h0M171.7 488.5h0M177.5 499.9h0M154.1 504.1h0M172.0 504.1h0M160.5 499.4h0M164.0 496.5h0M166.9 504.1h0M161.3 502.8h0M170.3 496.8h0M170.7 499.1h0M163.1 495.5h0M166.6 503.0h0M169.1 504.0h0M161.7 502.5h0M173.3 498.9h0M170.7 503.3h0M158.6 497.1h0M153.9 504.4h0M177.1 501.3h0M174.0 499.7h0M176.3 498.0h0M160.8 501.2h0M169.8 499.4h0M167.8 494.2h0M171.2 501.7h0M170.9 492.4h0M167.5 498.9h0M166.8 496.2h0M162.8 502.0h0M169.4 500.4h0M163.0 500.2h0M167.6 502.8h0M163.4 500.8h0M160.5 495.8h0M169.5 503.4h0M165.3 502.9h0M175.7 496.4h0M158.8 493.2h0M159.0 492.6h0M169.2 494.1h0M172.4 497.2h0M162.5 501.2h0M161.4 503.3h0M159.4 498.8h0M167.4 503.4h0M153.1 504.4h0M167.4 504.3h0M153.2 504.6h0M167.4 495.8h0M172.3 491.1h0M153.6 503.4h0M170.8 500.0h0M168.8 500.1h0M179.9 504.2h0M174.6 493.8h0M157.0 496.8h0M152.9 504.4h0M161.5 504.3h0M169.2 494.8h0M152.8 504.6h0M166.7 500.6h0M176.9 492.8h0M161.1 498.0h0M176.6 500.1h0M154.0 503.6h0M166.0 488.7h0M173.4 504.0h0M169.8 498.6h0M168.9 503.1h0M157.6 499.3h0M165.8 496.7h0M166.1 499.5h0M175.8 495.9h0M161.7 495.7h0M162.4 504.6h0M161.7 500.6h0M156.0 501.9h0M154.0 504.6h0M161.7 498.2h0M177.2 504.5h0M167.6 495.9h0M176.4 500.5h0M155.4 503.1h0M154.7 503.7h0M158.0 501.1h0M163.8 497.4h0M167.5 501.4h0M155.3 503.2h0M165.3 502.6h0M159.1 495.9h0M171.2 502.5h0M161.0 501.1h0M177.5 497.9h0M157.0 501.7h0M172.1 493.4h0M176.9 498.6h0M162.2 502.6h0M154.2 503.3h0M168.1 492.4h0M171.0 499.7h0M172.3 501.3h0M165.5 503.2h0M175.1 494.4h0M166.8 502.7h0M161.9 502.6h0M160.4 500.1h0M175.7 501.9h0M168.3 499.2h0M156.3 504.5h0M156.6 504.1h0M162.3 504.6h0M157.0 504.1h0M178.7 501.7h0M164.7 498.2h0M175.9 498.5h0M157.2 501.7h0M152.8 504.6h0M171.9 496.3h0M173.2 502.6h0M174.9 500.4h0M155.2 504.6h0M158.9 503.5h0M175.1 495.9h0M172.9 487.4h0M155.2 504.6h0M153.8 502.9h0M175.2 492.6h0M180.5 502.0h0M157.7 504.6h0M164.8 503.3h0M169.9 499.9h0M161.7 498.4h0M166.3 500.1h0M171.3 497.9h0M170.0 503.1h0M156.5 503.0h0M159.9 501.6h0M156.7 502.0h0M153.8 504.2h0M173.5 493.8h0M176.1 504.6h0M175.2 490.9h0M161.8 503.2h0M174.6 496.4h0M166.3 497.3h0M164.5 502.4h0M169.7 501.6h0M171.6 496.2h0M157.4 502.6h0M170.3 496.5h0M153.7 503.6h0M175.3 502.9h0M172.7 483.5h0M168.6 504.4h0M172.0 500.5h0M156.2 503.7h0M168.1 499.4h0M162.3 495.6h0M166.9 500.4h0M167.3 498.6h0M168.3 498.5h0M155.2 503.4h0M161.6 503.6h0M172.5 500.3h0M163.0 498.6h0M154.8 503.1h0M170.7 503.7h0M171.6 492.4h0M158.8 504.6h0M175.8 499.4h0M177.3 504.5h0M167.8 501.1h0M177.9 480.5h0M153.7 494.7h0M169.5 497.8h0M197.9 474.5h0M152.1 495.9h0M170.5 495.8h0M173.3 493.3h0M176.8 495.2h0M198.2 473.2h0M170.7 497.4h0M152.8 497.9h0M183.7 493.5h0M151.8 495.2h0M187.2 488.7h0M153.1 498.0h0M174.2 491.3h0M186.3 490.3h0M164.5 496.1h0M176.8 493.7h0M167.2 496.3h0M174.4 493.9h0M165.5 496.6h0M188.8 497.0h0M151.4 497.8h0M148.3 495.4h0M171.8 494.2h0M186.6 492.1h0M152.0 498.6h0M205.1 474.8h0M174.0 491.8h0M143.7 493.3h0M181.6 488.8h0M167.7 492.5h0M169.3 491.2h0M190.9 488.6h0M176.8 493.2h0M175.1 495.7h0M176.1 496.4h0M169.4 497.7h0M161.0 480.6h0M164.7 496.9h0M166.9 495.7h0M159.3 496.9h0M174.6 490.4h0M182.7 494.0h0M150.0 496.7h0M170.5 493.6h0M155.3 498.2h0M148.7 494.4h0M187.1 494.5h0M170.5 496.9h0M193.3 474.2h0M207.2 480.4h0M158.5 489.3h0M170.3 495.9h0M198.3 478.8h0M172.4 489.8h0M172.6 498.7h0M177.0 496.1h0M170.5 488.5h0M185.1 490.1h0M171.2 488.5h0M177.8 492.4h0M175.8 497.0h0M166.9 491.1h0M165.8 494.3h0M153.2 496.2h0M175.0 498.1h0M179.4 497.8h0M159.8 498.8h0M171.6 488.5h0M178.4 492.7h0M183.6 496.6h0M184.5 492.4h0M179.5 494.7h0M165.9 494.2h0M159.9 489.7h0M179.9 484.9h0M163.6 495.0h0M164.2 492.0h0M220.5 474.5h0M183.1 494.0h0M181.2 496.9h0M172.1 490.4h0M158.1 496.4h0M183.4 483.2h0M172.1 487.1h0M161.9 476.2h0M176.7 498.4h0M150.7 494.0h0M164.3 496.8h0M160.7 487.3h0M177.0 497.4h0M154.2 495.5h0M170.6 495.4h0M162.9 498.3h0M165.4 484.1h0M147.2 492.7h0M171.5 493.5h0M149.3 497.5h0M163.1 490.4h0M165.6 494.1h0M206.6 472.6h0M158.5 496.6h0M167.5 480.9h0M159.1 497.6h0M181.5 483.9h0M173.0 492.5h0M171.9 480.0h0M176.6 492.4h0M170.2 485.6h0M160.9 482.7h0M157.1 482.1h0M167.3 493.6h0M187.4 490.9h0M191.5 470.3h0M160.3 495.6h0M140.7 498.8h0M182.3 476.1h0M179.0 493.8h0M165.1 494.9h0M174.6 479.3h0M184.3 497.3h0M157.0 491.0h0M178.6 481.3h0M178.6 488.4h0M163.1 497.5h0M165.2 493.1h0M182.0 471.7h0M180.0 495.4h0M142.9 492.9h0M198.2 481.5h0M167.8 494.1h0M174.7 491.4h0M177.7 491.1h0M196.4 475.5h0M153.8 498.3h0M188.6 485.2h0M173.5 498.7h0M188.2 495.6h0M166.0 497.1h0M192.2 478.3h0M151.3 498.5h0M198.4 481.1h0M158.8 485.8h0M174.3 486.7h0M159.2 498.7h0M158.8 488.9h0M169.0 490.1h0M159.3 493.4h0M176.7 492.6h0M175.7 488.1h0M163.7 495.4h0M176.3 489.3h0M167.3 492.9h0M172.8 491.9h0M158.9 491.6h0M150.6 487.3h0M162.9 492.4h0M153.1 498.3h0M169.8 496.5h0M164.0 478.5h0M181.0 490.6h0M161.3 494.4h0M194.1 468.8h0M201.6 478.9h0M145.4 493.4h0M151.4 497.9h0M186.0 490.1h0M162.5 490.4h0M160.2 497.9h0M178.9 487.1h0M164.3 498.6h0M172.7 497.2h0M178.0 497.6h0M159.9 494.2h0M192.8 496.4h0M164.3 497.9h0M201.2 479.3h0M183.4 483.6h0M184.7 484.7h0M194.9 479.6h0M180.7 486.5h0M184.5 486.1h0M171.8 495.7h0M166.6 494.0h0M148.5 491.4h0M170.0 492.2h0M156.2 497.2h0M185.4 487.8h0M173.4 493.7h0M156.1 497.4h0M156.8 482.5h0M163.1 495.1h0M160.3 498.0h0M199.9 478.3h0M143.0 495.3h0M171.2 468.8h0M154.8 492.7h0M170.5 493.6h0M165.2 492.1h0M165.4 493.9h0M173.1 496.9h0M191.1 478.8h0M183.9 494.4h0M151.9 498.8h0M164.8 475.5h0M169.5 498.1h0M154.6 496.9h0M158.6 498.2h0M179.6 496.3h0M184.5 498.7h0M161.6 498.3h0M183.3 485.0h0M170.7 493.3h0M167.1 494.5h0M177.5 492.9h0M166.3 496.7h0M164.0 496.0h0M177.0 494.5h0M178.2 496.8h0M175.1 493.2h0M164.1 493.4h0M186.3 480.0h0M188.8 495.2h0M169.0 490.9h0M181.0 493.4h0M179.0 490.7h0M198.8 488.0h0M187.2 484.5h0M165.7 479.8h0M180.9 473.4h0M168.2 493.0h0M182.6 481.2h0M176.9 485.3h0M161.7 497.4h0M168.6 486.1h0M172.3 482.4h0M169.7 498.0h0M157.0 494.7h0M174.4 489.1h0M155.2 497.3h0M169.8 490.0h0M171.4 495.4h0M186.0 496.8h0M205.4 484.6h0M171.9 471.1h0M164.6 496.3h0M165.2 496.3h0M148.7 497.6h0M147.8 496.5h0M169.9 493.9h0M173.5 494.5h0M180.2 487.2h0M195.0 484.6h0M152.2 498.3h0M154.2 496.5h0M166.7 497.7h0M182.8 496.8h0M174.6 494.1h0M142.8 496.4h0M178.5 469.3h0M185.1 481.7h0M153.4 494.9h0M168.0 495.9h0M176.8 490.6h0M157.4 496.9h0M170.2 490.7h0M154.9 498.6h0M165.9 497.5h0M177.4 490.4h0M151.6 491.4h0M137.3 500.1h0M106.3 498.2h0M117.5 498.0h0M143.8 493.4h0M121.8 498.2h0M136.2 493.0h0M113.8 488.6h0M140.1 497.6h0M123.4 489.4h0M131.7 495.4h0M139.8 500.1h0M137.1 490.7h0M127.7 493.7h0M139.6 498.4h0M129.0 501.7h0M123.6 491.3h0M125.6 499.8h0M145.7 500.1h0M133.1 493.2h0M129.7 501.8h0M113.5 498.6h0M112.1 499.4h0M138.8 500.5h0M146.1 500.7h0M116.6 501.5h0M121.1 496.6h0M144.5 496.5h0M139.8 501.7h0M120.4 501.4h0M110.0 498.9h0M137.2 491.8h0M118.3 500.0h0M115.4 498.0h0M133.6 498.8h0M138.8 501.2h0M134.3 495.4h0M125.3 501.1h0M132.6 499.0h0M112.5 493.1h0M134.9 501.5h0M128.1 493.7h0M143.3 499.9h0M135.7 501.4h0M139.9 501.4h0M126.0 501.5h0M136.4 499.4h0M136.5 498.7h0M153.2 488.6h0M215.0 483.1h0M229.2 483.7h0M215.0 489.8h0M211.9 495.6h0M208.7 493.0h0M201.9 497.5h0M203.8 471.5h0M202.3 481.2h0M201.0 488.5h0M199.0 488.8h0M91.9 493.3h0M101.2 495.8h0M145.4 468.8h0M121.0 480.8h0M124.2 484.2h0M142.5 479.4h0M145.0 482.7h0M130.4 486.5h0M129.0 490.0h0M139.6 489.0h0" stroke="#0e5283" stroke-width="1.95" stroke-linecap="round" fill="none"/><path d="M205.8 323.8h0M227.5 362.3h0M179.4 425.8h0M190.0 436.3h0M190.4 443.1h0M211.2 442.3h0M211.9 449.8h0M182.7 456.7h0M174.6 464.4h0M185.2 465.8h0M187.1 464.4h0M201.9 468.1h0" stroke="#d0102a" stroke-width="2.3" stroke-linecap="round" fill="none"/><rect x="0" y="0" width="520" height="1.5" fill="#111"/><rect x="0" y="0" width="1.4" height="806" fill="#111"/><rect x="518.1" y="0" width="1.9" height="806" fill="#111"/><rect x="0" y="804.1" width="520" height="1.9" fill="#111"/></svg></body></html>
